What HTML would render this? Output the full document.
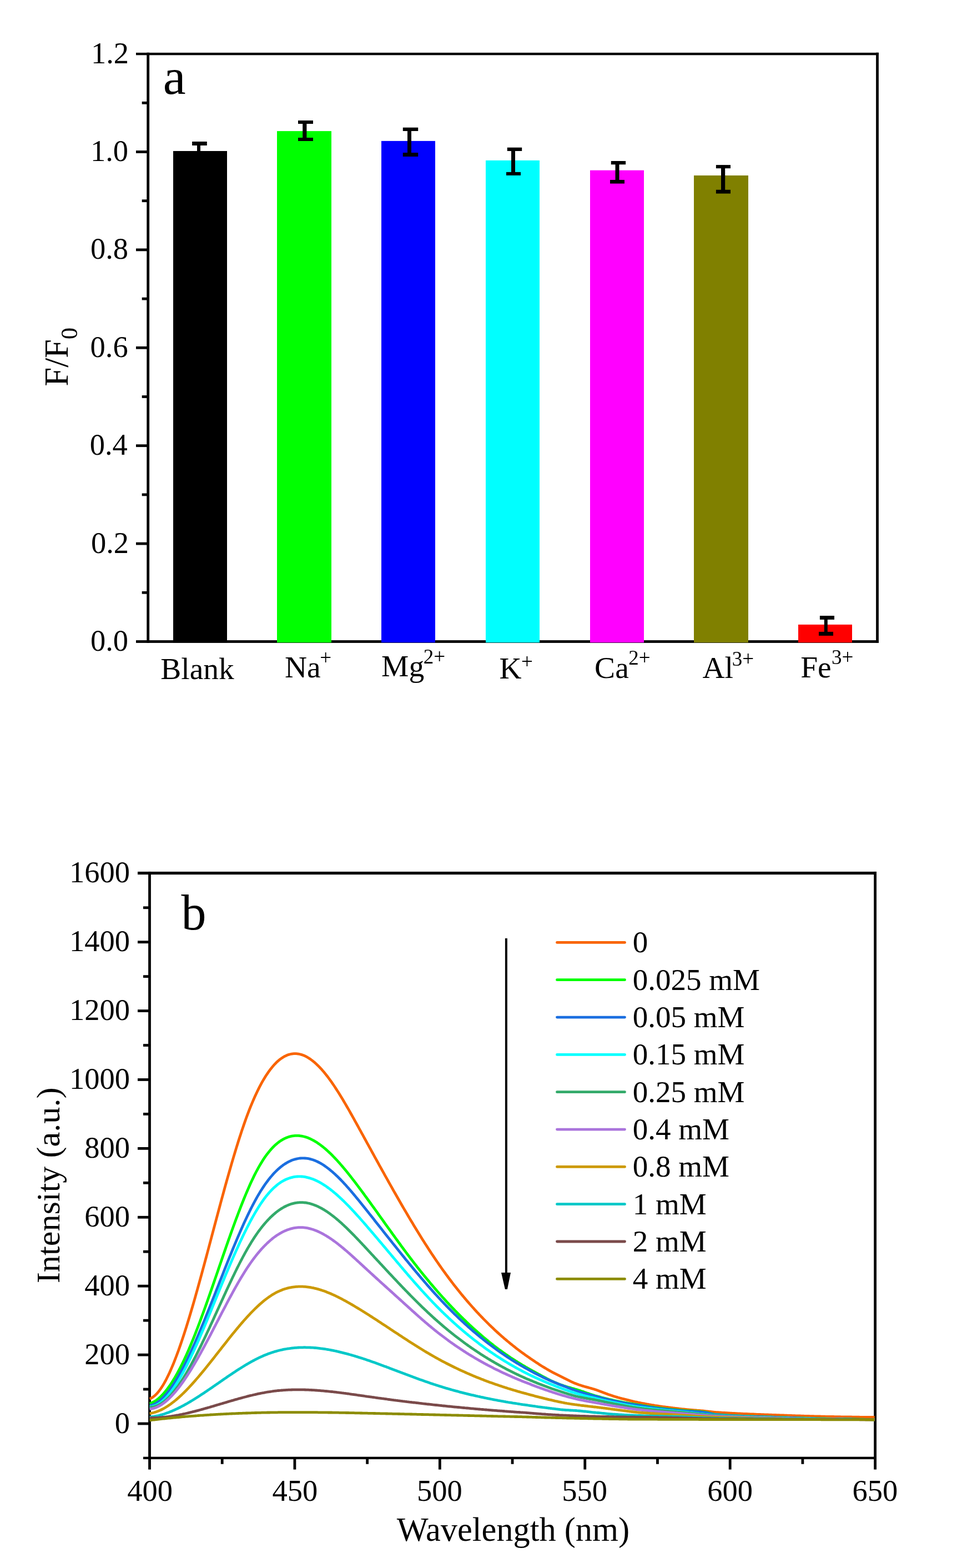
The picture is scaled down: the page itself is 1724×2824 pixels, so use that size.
<!DOCTYPE html>
<html><head><meta charset="utf-8"><title>Figure</title>
<style>html,body{margin:0;padding:0;background:#fff;}svg{display:block;}text{font-kerning:none;}</style>
</head><body>
<svg width="1724" height="2824" viewBox="0 0 1724 2824" font-family="'Liberation Serif','Times New Roman',serif" fill="#000">
<rect x="0" y="0" width="1724" height="2824" fill="#fff"/>
<rect x="264.30" y="94.70" width="4.80" height="1063.20" fill="#000"/>
<rect x="1578.10" y="94.70" width="4.80" height="1063.20" fill="#000"/>
<rect x="245.00" y="94.90" width="1337.90" height="4.40" fill="#000"/>
<rect x="245.00" y="1153.10" width="1337.90" height="4.80" fill="#000"/>
<rect x="245.00" y="976.70" width="21.70" height="4.80" fill="#000"/>
<rect x="245.00" y="800.30" width="21.70" height="4.80" fill="#000"/>
<rect x="245.00" y="623.90" width="21.70" height="4.80" fill="#000"/>
<rect x="245.00" y="447.50" width="21.70" height="4.80" fill="#000"/>
<rect x="245.00" y="271.10" width="21.70" height="4.80" fill="#000"/>
<rect x="255.70" y="1064.90" width="11.00" height="4.80" fill="#000"/>
<rect x="255.70" y="888.50" width="11.00" height="4.80" fill="#000"/>
<rect x="255.70" y="712.10" width="11.00" height="4.80" fill="#000"/>
<rect x="255.70" y="535.70" width="11.00" height="4.80" fill="#000"/>
<rect x="255.70" y="359.30" width="11.00" height="4.80" fill="#000"/>
<rect x="255.70" y="182.90" width="11.00" height="4.80" fill="#000"/>
<text x="162.95" y="1171.90" font-size="54.5">0.0</text>
<text x="163.88" y="995.50" font-size="54.5">0.2</text>
<text x="161.73" y="819.10" font-size="54.5">0.4</text>
<text x="162.50" y="642.70" font-size="54.5">0.6</text>
<text x="162.95" y="466.30" font-size="54.5">0.8</text>
<text x="162.95" y="289.90" font-size="54.5">1.0</text>
<text x="163.88" y="113.50" font-size="54.5">1.2</text>
<rect x="312.00" y="272.00" width="97.00" height="885.20" fill="#000000"/>
<rect x="499.00" y="236.10" width="98.00" height="921.10" fill="#00FF00"/>
<rect x="687.00" y="253.90" width="97.00" height="903.30" fill="#0000FF"/>
<rect x="875.00" y="288.90" width="97.00" height="868.30" fill="#00FFFF"/>
<rect x="1063.00" y="306.70" width="97.00" height="850.50" fill="#FF00FF"/>
<rect x="1250.00" y="316.00" width="98.00" height="841.20" fill="#808000"/>
<rect x="1438.00" y="1124.90" width="97.00" height="32.30" fill="#FF0000"/>
<rect x="355.00" y="255.60" width="6.00" height="25.80" fill="#000"/>
<rect x="346.10" y="255.00" width="26.70" height="7.00" fill="#000"/>
<rect x="346.10" y="276.00" width="26.70" height="6.00" fill="#000"/>
<rect x="545.20" y="217.60" width="7.20" height="35.80" fill="#000"/>
<rect x="537.00" y="217.00" width="27.00" height="6.00" fill="#000"/>
<rect x="537.00" y="248.00" width="27.00" height="6.00" fill="#000"/>
<rect x="734.00" y="230.30" width="7.00" height="51.10" fill="#000"/>
<rect x="725.80" y="229.70" width="27.40" height="6.30" fill="#000"/>
<rect x="725.80" y="275.00" width="27.40" height="7.00" fill="#000"/>
<rect x="921.00" y="266.30" width="7.00" height="49.00" fill="#000"/>
<rect x="913.80" y="265.70" width="26.40" height="6.30" fill="#000"/>
<rect x="912.00" y="309.90" width="26.00" height="6.00" fill="#000"/>
<rect x="1108.50" y="290.60" width="7.00" height="39.40" fill="#000"/>
<rect x="1100.80" y="290.00" width="26.30" height="6.30" fill="#000"/>
<rect x="1099.00" y="324.00" width="26.00" height="6.60" fill="#000"/>
<rect x="1299.00" y="297.70" width="7.20" height="50.30" fill="#000"/>
<rect x="1289.90" y="297.10" width="26.10" height="6.10" fill="#000"/>
<rect x="1289.90" y="341.80" width="26.10" height="6.80" fill="#000"/>
<rect x="1484.80" y="1109.60" width="6.00" height="34.70" fill="#000"/>
<rect x="1476.90" y="1109.00" width="26.10" height="6.90" fill="#000"/>
<rect x="1475.00" y="1137.90" width="26.00" height="7.00" fill="#000"/>
<text x="293.77" y="169.15" font-size="92">a</text>
<text x="289.20" y="1222.70" font-size="55.5">Blank</text>
<text x="513.00" y="1219.80" font-size="55.5">Na</text>
<text x="576.16" y="1196.50" font-size="37">+</text>
<text x="687.10" y="1217.90" font-size="55.5">Mg</text>
<text x="762.67" y="1195.10" font-size="37">2+</text>
<text x="899.50" y="1221.70" font-size="55.5">K</text>
<text x="939.06" y="1204.00" font-size="37">+</text>
<text x="1071.12" y="1220.60" font-size="55.5">Ca</text>
<text x="1132.37" y="1197.20" font-size="37">2+</text>
<text x="1265.46" y="1221.30" font-size="55.5">Al</text>
<text x="1318.83" y="1198.60" font-size="37">3+</text>
<text x="1442.20" y="1219.60" font-size="55.5">Fe</text>
<text x="1497.93" y="1196.40" font-size="37">3+</text>
<text transform="translate(121.8,695.76) rotate(-90)" font-size="61">F/F<tspan font-size="42" dy="17.2">0</tspan></text>
<rect x="267.10" y="1569.90" width="4.80" height="1076.70" fill="#000"/>
<rect x="1574.20" y="1569.90" width="4.80" height="1076.70" fill="#000"/>
<rect x="248.00" y="1569.90" width="1331.00" height="5.20" fill="#000"/>
<rect x="258.00" y="2623.70" width="1321.00" height="4.40" fill="#000"/>
<rect x="248.00" y="2561.60" width="21.50" height="4.80" fill="#000"/>
<rect x="248.00" y="2437.70" width="21.50" height="4.80" fill="#000"/>
<rect x="248.00" y="2313.80" width="21.50" height="4.80" fill="#000"/>
<rect x="248.00" y="2189.90" width="21.50" height="4.80" fill="#000"/>
<rect x="248.00" y="2066.00" width="21.50" height="4.80" fill="#000"/>
<rect x="248.00" y="1942.10" width="21.50" height="4.80" fill="#000"/>
<rect x="248.00" y="1818.20" width="21.50" height="4.80" fill="#000"/>
<rect x="248.00" y="1694.30" width="21.50" height="4.80" fill="#000"/>
<rect x="258.00" y="2499.65" width="11.50" height="4.80" fill="#000"/>
<rect x="258.00" y="2375.75" width="11.50" height="4.80" fill="#000"/>
<rect x="258.00" y="2251.85" width="11.50" height="4.80" fill="#000"/>
<rect x="258.00" y="2127.95" width="11.50" height="4.80" fill="#000"/>
<rect x="258.00" y="2004.05" width="11.50" height="4.80" fill="#000"/>
<rect x="258.00" y="1880.15" width="11.50" height="4.80" fill="#000"/>
<rect x="258.00" y="1756.25" width="11.50" height="4.80" fill="#000"/>
<rect x="258.00" y="1632.35" width="11.50" height="4.80" fill="#000"/>
<rect x="528.52" y="2625.90" width="4.80" height="20.70" fill="#000"/>
<rect x="789.94" y="2625.90" width="4.80" height="20.70" fill="#000"/>
<rect x="1051.36" y="2625.90" width="4.80" height="20.70" fill="#000"/>
<rect x="1312.78" y="2625.90" width="4.80" height="20.70" fill="#000"/>
<rect x="397.81" y="2625.90" width="4.80" height="10.90" fill="#000"/>
<rect x="659.23" y="2625.90" width="4.80" height="10.90" fill="#000"/>
<rect x="920.65" y="2625.90" width="4.80" height="10.90" fill="#000"/>
<rect x="1182.07" y="2625.90" width="4.80" height="10.90" fill="#000"/>
<rect x="1443.49" y="2625.90" width="4.80" height="10.90" fill="#000"/>
<text x="206.83" y="2580.50" font-size="54.5">0</text>
<text x="152.33" y="2456.60" font-size="54.5">200</text>
<text x="152.33" y="2332.70" font-size="54.5">400</text>
<text x="152.33" y="2208.80" font-size="54.5">600</text>
<text x="152.33" y="2084.90" font-size="54.5">800</text>
<text x="125.08" y="1961.00" font-size="54.5">1000</text>
<text x="125.08" y="1837.10" font-size="54.5">1200</text>
<text x="125.08" y="1713.20" font-size="54.5">1400</text>
<text x="125.08" y="1589.30" font-size="54.5">1600</text>
<text x="229.13" y="2703.20" font-size="54.5">400</text>
<text x="490.55" y="2703.20" font-size="54.5">450</text>
<text x="750.92" y="2703.20" font-size="54.5">500</text>
<text x="1012.34" y="2703.20" font-size="54.5">550</text>
<text x="1274.17" y="2703.20" font-size="54.5">600</text>
<text x="1535.59" y="2703.20" font-size="54.5">650</text>
<text x="714.74" y="2775.00" font-size="60.4" style="font-kerning:normal">Wavelength (nm)</text>
<text transform="translate(107.0,2311.18) rotate(-90)" font-size="60.2">Intensity (a.u.)</text>
<text x="326.40" y="1674.32" font-size="90">b</text>
<path d="M269.5,2519.2 271.5,2518.5 273.5,2517.5 275.5,2516.2 277.5,2514.7 279.5,2513.0 281.5,2511.1 283.5,2508.9 285.5,2506.5 287.5,2503.9 289.5,2501.1 291.5,2498.1 293.5,2495.0 295.5,2491.6 297.5,2488.0 299.5,2484.3 301.5,2480.3 303.5,2476.2 305.5,2472.0 307.5,2467.5 309.5,2462.9 311.5,2458.2 313.5,2453.3 315.5,2448.2 317.5,2443.0 319.5,2437.7 321.5,2432.2 323.5,2426.6 325.5,2420.9 327.5,2415.0 329.5,2409.0 331.5,2402.9 333.5,2396.7 335.5,2390.4 337.5,2384.0 339.5,2377.5 341.5,2371.0 343.5,2364.3 345.5,2357.5 347.5,2350.7 349.5,2343.8 351.5,2336.8 353.5,2329.7 355.5,2322.6 357.5,2315.4 359.5,2308.2 361.5,2300.9 363.5,2293.6 365.5,2286.2 367.5,2278.9 369.5,2271.4 371.5,2264.0 373.5,2256.5 375.5,2249.0 377.5,2241.5 379.5,2234.0 381.5,2226.4 383.5,2218.9 385.5,2211.4 387.5,2203.9 389.5,2196.4 391.5,2188.9 393.5,2181.4 395.5,2174.0 397.5,2166.5 399.5,2159.2 401.5,2151.8 403.5,2144.5 405.5,2137.2 407.5,2130.0 409.5,2122.9 411.5,2115.8 413.5,2108.8 415.5,2101.8 417.5,2094.9 419.5,2088.1 421.5,2081.4 423.5,2074.7 425.5,2068.1 427.5,2061.7 429.5,2055.3 431.5,2049.0 433.5,2042.9 435.5,2036.8 437.5,2030.9 439.5,2025.1 441.5,2019.4 443.5,2013.8 445.5,2008.4 447.5,2003.1 449.5,1997.9 451.5,1992.9 453.5,1988.1 455.5,1983.3 457.5,1978.7 459.5,1974.2 461.5,1969.9 463.5,1965.7 465.5,1961.6 467.5,1957.7 469.5,1953.9 471.5,1950.2 473.5,1946.6 475.5,1943.2 477.5,1939.9 479.5,1936.8 481.5,1933.8 483.5,1930.9 485.5,1928.1 487.5,1925.4 489.5,1922.9 491.5,1920.5 493.5,1918.2 495.5,1916.1 497.5,1914.0 499.5,1912.1 501.5,1910.3 503.5,1908.7 505.5,1907.1 507.5,1905.7 509.5,1904.4 511.5,1903.2 513.5,1902.1 515.5,1901.2 517.5,1900.3 519.5,1899.6 521.5,1899.0 523.5,1898.5 525.5,1898.1 527.5,1897.8 529.5,1897.7 531.5,1897.6 533.5,1897.7 535.5,1897.8 537.5,1898.1 539.5,1898.5 541.5,1899.0 543.5,1899.6 545.5,1900.3 547.5,1901.0 549.5,1901.9 551.5,1902.9 553.5,1904.0 555.5,1905.2 557.5,1906.5 559.5,1907.8 561.5,1909.3 563.5,1910.8 565.5,1912.5 567.5,1914.2 569.5,1916.0 571.5,1917.9 573.5,1919.8 575.5,1921.9 577.5,1924.0 579.5,1926.2 581.5,1928.5 583.5,1930.8 585.5,1933.3 587.5,1935.7 589.5,1938.3 591.5,1940.9 593.5,1943.6 595.5,1946.4 597.5,1949.2 599.5,1952.1 601.5,1955.0 603.5,1958.0 605.5,1961.1 607.5,1964.2 609.5,1967.3 611.5,1970.5 613.5,1973.8 615.5,1977.0 617.5,1980.3 619.5,1983.7 621.5,1987.1 623.5,1990.5 625.5,1994.0 627.5,1997.4 629.5,2000.9 631.5,2004.5 633.5,2008.0 635.5,2011.6 637.5,2015.2 639.5,2018.8 641.5,2022.4 643.5,2026.0 645.5,2029.6 647.5,2033.3 649.5,2036.9 651.5,2040.6 653.5,2044.2 655.5,2047.9 657.5,2051.5 659.5,2055.2 661.5,2058.8 663.5,2062.4 665.5,2066.1 667.5,2069.7 669.5,2073.4 671.5,2077.0 673.5,2080.6 675.5,2084.3 677.5,2087.9 679.5,2091.5 681.5,2095.2 683.5,2098.8 685.5,2102.4 687.5,2106.0 689.5,2109.6 691.5,2113.2 693.5,2116.8 695.5,2120.4 697.5,2123.9 699.5,2127.5 701.5,2131.1 703.5,2134.6 705.5,2138.2 707.5,2141.7 709.5,2145.3 711.5,2148.8 713.5,2152.3 715.5,2155.8 717.5,2159.3 719.5,2162.8 721.5,2166.2 723.5,2169.7 725.5,2173.2 727.5,2176.6 729.5,2180.0 731.5,2183.4 733.5,2186.8 735.5,2190.2 737.5,2193.6 739.5,2196.9 741.5,2200.3 743.5,2203.6 745.5,2206.9 747.5,2210.2 749.5,2213.5 751.5,2216.8 753.5,2220.0 755.5,2223.3 757.5,2226.5 759.5,2229.7 761.5,2232.9 763.5,2236.0 765.5,2239.2 767.5,2242.3 769.5,2245.4 771.5,2248.5 773.5,2251.6 775.5,2254.6 777.5,2257.7 779.5,2260.7 781.5,2263.7 783.5,2266.6 785.5,2269.6 787.5,2272.5 789.5,2275.4 791.5,2278.3 793.5,2281.1 795.5,2284.0 797.5,2286.8 799.5,2289.6 801.5,2292.3 803.5,2295.1 805.5,2297.8 807.5,2300.5 809.5,2303.2 811.5,2305.8 813.5,2308.5 815.5,2311.1 817.5,2313.7 819.5,2316.2 821.5,2318.8 823.5,2321.3 825.5,2323.8 827.5,2326.3 829.5,2328.8 831.5,2331.2 833.5,2333.6 835.5,2336.0 837.5,2338.4 839.5,2340.8 841.5,2343.1 843.5,2345.4 845.5,2347.7 847.5,2350.0 849.5,2352.3 851.5,2354.5 853.5,2356.7 855.5,2359.0 857.5,2361.1 859.5,2363.3 861.5,2365.4 863.5,2367.6 865.5,2369.7 867.5,2371.8 869.5,2373.8 871.5,2375.9 873.5,2377.9 875.5,2379.9 877.5,2381.9 879.5,2383.9 881.5,2385.9 883.5,2387.8 885.5,2389.7 887.5,2391.6 889.5,2393.5 891.5,2395.4 893.5,2397.3 895.5,2399.1 897.5,2400.9 899.5,2402.7 901.5,2404.5 903.5,2406.3 905.5,2408.0 907.5,2409.8 909.5,2411.5 911.5,2413.2 913.5,2414.9 915.5,2416.5 917.5,2418.2 919.5,2419.8 921.5,2421.4 923.5,2423.0 925.5,2424.6 927.5,2426.2 929.5,2427.8 931.5,2429.3 933.5,2430.8 935.5,2432.3 937.5,2433.8 939.5,2435.3 941.5,2436.8 943.5,2438.2 945.5,2439.7 947.5,2441.1 949.5,2442.5 951.5,2443.9 953.5,2445.3 955.5,2446.7 957.5,2448.1 959.5,2449.4 961.5,2450.8 963.5,2452.1 965.5,2453.5 967.5,2454.8 969.5,2456.1 971.5,2457.4 973.5,2458.7 975.5,2460.0 977.5,2461.2 979.5,2462.4 981.5,2463.6 983.5,2464.8 985.5,2466.0 987.5,2467.1 989.5,2468.3 991.5,2469.4 993.5,2470.5 995.5,2471.6 997.5,2472.6 999.5,2473.7 1001.5,2474.7 1003.5,2475.7 1005.5,2476.7 1007.5,2477.7 1009.5,2478.7 1011.5,2479.7 1013.5,2480.7 1015.5,2481.7 1017.5,2482.6 1019.5,2483.6 1021.5,2484.6 1023.5,2485.6 1025.5,2486.6 1027.5,2487.6 1029.5,2488.6 1031.5,2489.5 1033.5,2490.4 1035.5,2491.2 1037.5,2492.0 1039.5,2492.8 1041.5,2493.5 1043.5,2494.2 1045.5,2494.8 1047.5,2495.5 1049.5,2496.1 1051.5,2496.7 1053.5,2497.3 1055.5,2497.8 1057.5,2498.4 1059.5,2498.9 1061.5,2499.5 1063.5,2500.0 1065.5,2500.6 1067.5,2501.2 1069.5,2501.8 1071.5,2502.4 1073.5,2503.1 1075.5,2503.8 1077.5,2504.5 1079.5,2505.2 1081.5,2506.0 1083.5,2506.7 1085.5,2507.4 1087.5,2508.2 1089.5,2508.9 1091.5,2509.7 1093.5,2510.4 1095.5,2511.2 1097.5,2511.9 1099.5,2512.6 1101.5,2513.3 1103.5,2513.9 1105.5,2514.6 1107.5,2515.2 1109.5,2515.8 1111.5,2516.4 1113.5,2517.0 1115.5,2517.5 1117.5,2518.1 1119.5,2518.6 1121.5,2519.2 1123.5,2519.7 1125.5,2520.2 1127.5,2520.7 1129.5,2521.2 1131.5,2521.7 1133.5,2522.2 1135.5,2522.7 1137.5,2523.1 1139.5,2523.6 1141.5,2524.0 1143.5,2524.5 1145.5,2524.9 1147.5,2525.3 1149.5,2525.8 1151.5,2526.2 1153.5,2526.6 1155.5,2527.0 1157.5,2527.4 1159.5,2527.7 1161.5,2528.1 1163.5,2528.5 1165.5,2528.9 1167.5,2529.2 1169.5,2529.6 1171.5,2529.9 1173.5,2530.3 1175.5,2530.6 1177.5,2530.9 1179.5,2531.3 1181.5,2531.6 1183.5,2531.9 1185.5,2532.2 1187.5,2532.5 1189.5,2532.8 1191.5,2533.1 1193.5,2533.4 1195.5,2533.6 1197.5,2533.9 1199.5,2534.2 1201.5,2534.5 1203.5,2534.7 1205.5,2535.0 1207.5,2535.2 1209.5,2535.5 1211.5,2535.7 1213.5,2536.0 1215.5,2536.2 1217.5,2536.5 1219.5,2536.7 1221.5,2536.9 1223.5,2537.2 1225.5,2537.4 1227.5,2537.6 1229.5,2537.8 1231.5,2538.0 1233.5,2538.2 1235.5,2538.4 1237.5,2538.6 1239.5,2538.8 1241.5,2539.0 1243.5,2539.1 1245.5,2539.3 1247.5,2539.5 1249.5,2539.6 1251.5,2539.8 1253.5,2540.0 1255.5,2540.2 1257.5,2540.3 1259.5,2540.5 1261.5,2540.7 1263.5,2540.9 1265.5,2541.0 1267.5,2541.2 1269.5,2541.4 1271.5,2541.6 1273.5,2541.8 1275.5,2542.0 1277.5,2542.3 1279.5,2542.5 1281.5,2542.7 1283.5,2542.9 1285.5,2543.1 1287.5,2543.3 1289.5,2543.5 1291.5,2543.6 1293.5,2543.7 1295.5,2543.9 1297.5,2544.0 1299.5,2544.1 1301.5,2544.3 1303.5,2544.4 1305.5,2544.5 1307.5,2544.6 1309.5,2544.7 1311.5,2544.9 1313.5,2545.0 1315.5,2545.1 1317.5,2545.2 1319.5,2545.3 1321.5,2545.4 1323.5,2545.5 1325.5,2545.6 1327.5,2545.7 1329.5,2545.8 1331.5,2545.9 1333.5,2546.0 1335.5,2546.1 1337.5,2546.2 1339.5,2546.3 1341.5,2546.4 1343.5,2546.5 1345.5,2546.5 1347.5,2546.6 1349.5,2546.7 1351.5,2546.8 1353.5,2546.9 1355.5,2547.0 1357.5,2547.0 1359.5,2547.1 1361.5,2547.2 1363.5,2547.3 1365.5,2547.3 1367.5,2547.4 1369.5,2547.5 1371.5,2547.6 1373.5,2547.6 1375.5,2547.7 1377.5,2547.8 1379.5,2547.9 1381.5,2547.9 1383.5,2548.0 1385.5,2548.1 1387.5,2548.2 1389.5,2548.2 1391.5,2548.3 1393.5,2548.4 1395.5,2548.4 1397.5,2548.5 1399.5,2548.6 1401.5,2548.7 1403.5,2548.7 1405.5,2548.8 1407.5,2548.9 1409.5,2548.9 1411.5,2549.0 1413.5,2549.1 1415.5,2549.1 1417.5,2549.2 1419.5,2549.3 1421.5,2549.4 1423.5,2549.4 1425.5,2549.5 1427.5,2549.6 1429.5,2549.6 1431.5,2549.7 1433.5,2549.8 1435.5,2549.8 1437.5,2549.9 1439.5,2549.9 1441.5,2550.0 1443.5,2550.1 1445.5,2550.1 1447.5,2550.2 1449.5,2550.3 1451.5,2550.3 1453.5,2550.4 1455.5,2550.4 1457.5,2550.5 1459.5,2550.6 1461.5,2550.6 1463.5,2550.7 1465.5,2550.7 1467.5,2550.8 1469.5,2550.8 1471.5,2550.9 1473.5,2550.9 1475.5,2551.0 1477.5,2551.0 1479.5,2551.1 1481.5,2551.1 1483.5,2551.2 1485.5,2551.2 1487.5,2551.3 1489.5,2551.3 1491.5,2551.3 1493.5,2551.4 1495.5,2551.4 1497.5,2551.5 1499.5,2551.5 1501.5,2551.5 1503.5,2551.6 1505.5,2551.6 1507.5,2551.6 1509.5,2551.7 1511.5,2551.7 1513.5,2551.7 1515.5,2551.8 1517.5,2551.8 1519.5,2551.8 1521.5,2551.9 1523.5,2551.9 1525.5,2551.9 1527.5,2552.0 1529.5,2552.0 1531.5,2552.0 1533.5,2552.0 1535.5,2552.1 1537.5,2552.1 1539.5,2552.1 1541.5,2552.2 1543.5,2552.2 1545.5,2552.2 1547.5,2552.2 1549.5,2552.3 1551.5,2552.3 1553.5,2552.3 1555.5,2552.3 1557.5,2552.3 1559.5,2552.4 1561.5,2552.4 1563.5,2552.4 1565.5,2552.4 1567.5,2552.4 1569.5,2552.4 1571.5,2552.5 1573.5,2552.5 1575.5,2552.5" fill="none" stroke="#F96400" stroke-width="4.8" stroke-linejoin="round"/>
<path d="M269.5,2527.8 271.5,2527.3 273.5,2526.5 275.5,2525.5 277.5,2524.4 279.5,2523.2 281.5,2521.9 283.5,2520.4 285.5,2518.8 287.5,2517.0 289.5,2515.2 291.5,2513.2 293.5,2511.1 295.5,2508.9 297.5,2506.5 299.5,2504.0 301.5,2501.5 303.5,2498.8 305.5,2496.0 307.5,2493.0 309.5,2490.0 311.5,2486.8 313.5,2483.6 315.5,2480.2 317.5,2476.7 319.5,2473.2 321.5,2469.5 323.5,2465.7 325.5,2461.8 327.5,2457.8 329.5,2453.7 331.5,2449.6 333.5,2445.3 335.5,2440.9 337.5,2436.4 339.5,2431.9 341.5,2427.2 343.5,2422.5 345.5,2417.7 347.5,2412.8 349.5,2407.8 351.5,2402.8 353.5,2397.7 355.5,2392.5 357.5,2387.3 359.5,2382.0 361.5,2376.6 363.5,2371.2 365.5,2365.7 367.5,2360.2 369.5,2354.7 371.5,2349.1 373.5,2343.5 375.5,2337.8 377.5,2332.1 379.5,2326.4 381.5,2320.6 383.5,2314.9 385.5,2309.1 387.5,2303.3 389.5,2297.5 391.5,2291.7 393.5,2285.9 395.5,2280.0 397.5,2274.2 399.5,2268.4 401.5,2262.6 403.5,2256.9 405.5,2251.1 407.5,2245.3 409.5,2239.6 411.5,2233.9 413.5,2228.3 415.5,2222.6 417.5,2217.0 419.5,2211.5 421.5,2206.0 423.5,2200.5 425.5,2195.1 427.5,2189.8 429.5,2184.5 431.5,2179.3 433.5,2174.1 435.5,2169.0 437.5,2164.0 439.5,2159.0 441.5,2154.2 443.5,2149.4 445.5,2144.7 447.5,2140.1 449.5,2135.5 451.5,2131.1 453.5,2126.8 455.5,2122.6 457.5,2118.4 459.5,2114.4 461.5,2110.5 463.5,2106.8 465.5,2103.1 467.5,2099.6 469.5,2096.2 471.5,2092.9 473.5,2089.7 475.5,2086.7 477.5,2083.7 479.5,2080.9 481.5,2078.2 483.5,2075.7 485.5,2073.2 487.5,2070.9 489.5,2068.6 491.5,2066.5 493.5,2064.5 495.5,2062.6 497.5,2060.8 499.5,2059.1 501.5,2057.5 503.5,2056.0 505.5,2054.6 507.5,2053.4 509.5,2052.2 511.5,2051.1 513.5,2050.1 515.5,2049.2 517.5,2048.4 519.5,2047.7 521.5,2047.1 523.5,2046.6 525.5,2046.2 527.5,2045.8 529.5,2045.6 531.5,2045.4 533.5,2045.3 535.5,2045.3 537.5,2045.4 539.5,2045.5 541.5,2045.8 543.5,2046.1 545.5,2046.5 547.5,2047.0 549.5,2047.5 551.5,2048.1 553.5,2048.8 555.5,2049.6 557.5,2050.4 559.5,2051.3 561.5,2052.3 563.5,2053.3 565.5,2054.4 567.5,2055.6 569.5,2056.8 571.5,2058.1 573.5,2059.5 575.5,2060.9 577.5,2062.3 579.5,2063.8 581.5,2065.4 583.5,2067.0 585.5,2068.7 587.5,2070.4 589.5,2072.2 591.5,2074.1 593.5,2075.9 595.5,2077.8 597.5,2079.8 599.5,2081.8 601.5,2083.9 603.5,2086.0 605.5,2088.1 607.5,2090.2 609.5,2092.5 611.5,2094.7 613.5,2097.0 615.5,2099.3 617.5,2101.6 619.5,2104.0 621.5,2106.4 623.5,2108.8 625.5,2111.3 627.5,2113.8 629.5,2116.3 631.5,2118.8 633.5,2121.4 635.5,2123.9 637.5,2126.5 639.5,2129.1 641.5,2131.8 643.5,2134.4 645.5,2137.1 647.5,2139.7 649.5,2142.4 651.5,2145.1 653.5,2147.8 655.5,2150.5 657.5,2153.3 659.5,2156.0 661.5,2158.7 663.5,2161.5 665.5,2164.2 667.5,2167.0 669.5,2169.8 671.5,2172.6 673.5,2175.3 675.5,2178.1 677.5,2180.9 679.5,2183.7 681.5,2186.5 683.5,2189.3 685.5,2192.1 687.5,2194.9 689.5,2197.7 691.5,2200.5 693.5,2203.3 695.5,2206.1 697.5,2208.9 699.5,2211.6 701.5,2214.4 703.5,2217.2 705.5,2220.0 707.5,2222.8 709.5,2225.5 711.5,2228.3 713.5,2231.1 715.5,2233.8 717.5,2236.6 719.5,2239.3 721.5,2242.0 723.5,2244.8 725.5,2247.5 727.5,2250.2 729.5,2252.9 731.5,2255.6 733.5,2258.2 735.5,2260.9 737.5,2263.5 739.5,2266.2 741.5,2268.8 743.5,2271.4 745.5,2274.0 747.5,2276.6 749.5,2279.1 751.5,2281.7 753.5,2284.2 755.5,2286.7 757.5,2289.3 759.5,2291.7 761.5,2294.2 763.5,2296.7 765.5,2299.1 767.5,2301.6 769.5,2304.0 771.5,2306.4 773.5,2308.8 775.5,2311.2 777.5,2313.6 779.5,2315.9 781.5,2318.3 783.5,2320.6 785.5,2322.9 787.5,2325.2 789.5,2327.5 791.5,2329.8 793.5,2332.0 795.5,2334.3 797.5,2336.5 799.5,2338.7 801.5,2340.9 803.5,2343.1 805.5,2345.3 807.5,2347.4 809.5,2349.6 811.5,2351.7 813.5,2353.8 815.5,2355.9 817.5,2358.0 819.5,2360.1 821.5,2362.1 823.5,2364.2 825.5,2366.2 827.5,2368.2 829.5,2370.2 831.5,2372.2 833.5,2374.1 835.5,2376.1 837.5,2378.0 839.5,2380.0 841.5,2381.9 843.5,2383.8 845.5,2385.7 847.5,2387.5 849.5,2389.4 851.5,2391.2 853.5,2393.0 855.5,2394.8 857.5,2396.6 859.5,2398.4 861.5,2400.2 863.5,2401.9 865.5,2403.6 867.5,2405.4 869.5,2407.1 871.5,2408.8 873.5,2410.4 875.5,2412.1 877.5,2413.7 879.5,2415.4 881.5,2417.0 883.5,2418.6 885.5,2420.2 887.5,2421.7 889.5,2423.3 891.5,2424.8 893.5,2426.3 895.5,2427.8 897.5,2429.3 899.5,2430.8 901.5,2432.3 903.5,2433.7 905.5,2435.2 907.5,2436.6 909.5,2438.0 911.5,2439.4 913.5,2440.8 915.5,2442.2 917.5,2443.5 919.5,2444.9 921.5,2446.2 923.5,2447.5 925.5,2448.8 927.5,2450.1 929.5,2451.4 931.5,2452.6 933.5,2453.9 935.5,2455.1 937.5,2456.3 939.5,2457.6 941.5,2458.8 943.5,2459.9 945.5,2461.1 947.5,2462.3 949.5,2463.4 951.5,2464.5 953.5,2465.7 955.5,2466.8 957.5,2467.9 959.5,2469.0 961.5,2470.1 963.5,2471.2 965.5,2472.3 967.5,2473.4 969.5,2474.5 971.5,2475.6 973.5,2476.7 975.5,2477.8 977.5,2478.9 979.5,2479.9 981.5,2481.0 983.5,2482.0 985.5,2483.1 987.5,2484.1 989.5,2485.1 991.5,2486.1 993.5,2487.1 995.5,2488.0 997.5,2488.9 999.5,2489.8 1001.5,2490.6 1003.5,2491.4 1005.5,2492.2 1007.5,2493.0 1009.5,2493.7 1011.5,2494.4 1013.5,2495.1 1015.5,2495.8 1017.5,2496.4 1019.5,2497.1 1021.5,2497.7 1023.5,2498.3 1025.5,2498.8 1027.5,2499.4 1029.5,2500.0 1031.5,2500.5 1033.5,2501.1 1035.5,2501.7 1037.5,2502.3 1039.5,2502.9 1041.5,2503.5 1043.5,2504.1 1045.5,2504.8 1047.5,2505.5 1049.5,2506.1 1051.5,2506.8 1053.5,2507.5 1055.5,2508.2 1057.5,2508.9 1059.5,2509.6 1061.5,2510.3 1063.5,2511.0 1065.5,2511.6 1067.5,2512.3 1069.5,2512.9 1071.5,2513.5 1073.5,2514.0 1075.5,2514.6 1077.5,2515.2 1079.5,2515.7 1081.5,2516.2 1083.5,2516.8 1085.5,2517.3 1087.5,2517.8 1089.5,2518.3 1091.5,2518.8 1093.5,2519.3 1095.5,2519.8 1097.5,2520.3 1099.5,2520.7 1101.5,2521.2 1103.5,2521.7 1105.5,2522.1 1107.5,2522.5 1109.5,2522.9 1111.5,2523.3 1113.5,2523.7 1115.5,2524.1 1117.5,2524.5 1119.5,2524.9 1121.5,2525.3 1123.5,2525.6 1125.5,2526.0 1127.5,2526.3 1129.5,2526.7 1131.5,2527.0 1133.5,2527.4 1135.5,2527.7 1137.5,2528.0 1139.5,2528.3 1141.5,2528.7 1143.5,2529.0 1145.5,2529.3 1147.5,2529.6 1149.5,2530.0 1151.5,2530.3 1153.5,2530.6 1155.5,2530.9 1157.5,2531.3 1159.5,2531.6 1161.5,2531.9 1163.5,2532.2 1165.5,2532.6 1167.5,2532.9 1169.5,2533.2 1171.5,2533.5 1173.5,2533.8 1175.5,2534.1 1177.5,2534.4 1179.5,2534.7 1181.5,2535.0 1183.5,2535.2 1185.5,2535.5 1187.5,2535.7 1189.5,2536.0 1191.5,2536.2 1193.5,2536.5 1195.5,2536.7 1197.5,2536.9 1199.5,2537.1 1201.5,2537.3 1203.5,2537.5 1205.5,2537.8 1207.5,2538.0 1209.5,2538.2 1211.5,2538.3 1213.5,2538.5 1215.5,2538.7 1217.5,2538.9 1219.5,2539.1 1221.5,2539.3 1223.5,2539.5 1225.5,2539.6 1227.5,2539.8 1229.5,2540.0 1231.5,2540.2 1233.5,2540.3 1235.5,2540.5 1237.5,2540.6 1239.5,2540.8 1241.5,2540.9 1243.5,2541.0 1245.5,2541.2 1247.5,2541.3 1249.5,2541.5 1251.5,2541.6 1253.5,2541.7 1255.5,2541.9 1257.5,2542.0 1259.5,2542.2 1261.5,2542.4 1263.5,2542.6 1265.5,2542.8 1267.5,2543.0 1269.5,2543.2 1271.5,2543.5 1273.5,2543.9 1275.5,2544.3 1277.5,2544.8 1279.5,2545.3 1281.5,2545.8 1283.5,2546.2 1285.5,2546.6 1287.5,2547.0 1289.5,2547.3 1291.5,2547.4 1293.5,2547.6 1295.5,2547.8 1297.5,2547.9 1299.5,2548.1 1301.5,2548.2 1303.5,2548.4 1305.5,2548.5 1307.5,2548.6 1309.5,2548.8 1311.5,2548.9 1313.5,2549.0 1315.5,2549.2 1317.5,2549.3 1319.5,2549.4 1321.5,2549.5 1323.5,2549.6 1325.5,2549.7 1327.5,2549.8 1329.5,2549.9 1331.5,2550.0 1333.5,2550.1 1335.5,2550.2 1337.5,2550.3 1339.5,2550.3 1341.5,2550.4 1343.5,2550.5 1345.5,2550.6 1347.5,2550.7 1349.5,2550.7 1351.5,2550.8 1353.5,2550.9 1355.5,2550.9 1357.5,2551.0 1359.5,2551.1 1361.5,2551.2 1363.5,2551.2 1365.5,2551.3 1367.5,2551.3 1369.5,2551.4 1371.5,2551.5 1373.5,2551.5 1375.5,2551.6 1377.5,2551.7 1379.5,2551.7 1381.5,2551.8 1383.5,2551.9 1385.5,2551.9 1387.5,2552.0 1389.5,2552.0 1391.5,2552.1 1393.5,2552.2 1395.5,2552.2 1397.5,2552.3 1399.5,2552.4 1401.5,2552.5 1403.5,2552.5 1405.5,2552.6 1407.5,2552.7 1409.5,2552.7 1411.5,2552.8 1413.5,2552.9 1415.5,2552.9 1417.5,2553.0 1419.5,2553.1 1421.5,2553.1 1423.5,2553.2 1425.5,2553.3 1427.5,2553.3 1429.5,2553.4 1431.5,2553.5 1433.5,2553.5 1435.5,2553.6 1437.5,2553.7 1439.5,2553.7 1441.5,2553.8 1443.5,2553.8 1445.5,2553.9 1447.5,2554.0 1449.5,2554.0 1451.5,2554.1 1453.5,2554.1 1455.5,2554.2 1457.5,2554.3 1459.5,2554.3 1461.5,2554.4 1463.5,2554.4 1465.5,2554.5 1467.5,2554.5 1469.5,2554.6 1471.5,2554.6 1473.5,2554.7 1475.5,2554.7 1477.5,2554.8 1479.5,2554.8 1481.5,2554.9 1483.5,2554.9 1485.5,2555.0 1487.5,2555.0 1489.5,2555.1 1491.5,2555.1 1493.5,2555.2 1495.5,2555.2 1497.5,2555.2 1499.5,2555.3 1501.5,2555.3 1503.5,2555.4 1505.5,2555.4 1507.5,2555.4 1509.5,2555.5 1511.5,2555.5 1513.5,2555.6 1515.5,2555.6 1517.5,2555.6 1519.5,2555.7 1521.5,2555.7 1523.5,2555.7 1525.5,2555.8 1527.5,2555.8 1529.5,2555.9 1531.5,2555.9 1533.5,2555.9 1535.5,2556.0 1537.5,2556.0 1539.5,2556.0 1541.5,2556.0 1543.5,2556.1 1545.5,2556.1 1547.5,2556.1 1549.5,2556.2 1551.5,2556.2 1553.5,2556.2 1555.5,2556.2 1557.5,2556.3 1559.5,2556.3 1561.5,2556.3 1563.5,2556.4 1565.5,2556.4 1567.5,2556.4 1569.5,2556.4 1571.5,2556.4 1573.5,2556.5 1575.5,2556.5" fill="none" stroke="#00FF00" stroke-width="4.8" stroke-linejoin="round"/>
<path d="M269.5,2531.5 271.5,2531.2 273.5,2530.6 275.5,2530.0 277.5,2529.1 279.5,2528.1 281.5,2527.0 283.5,2525.8 285.5,2524.4 287.5,2522.8 289.5,2521.2 291.5,2519.4 293.5,2517.4 295.5,2515.4 297.5,2513.2 299.5,2510.9 301.5,2508.5 303.5,2506.0 305.5,2503.4 307.5,2500.6 309.5,2497.8 311.5,2494.8 313.5,2491.8 315.5,2488.6 317.5,2485.3 319.5,2482.0 321.5,2478.6 323.5,2475.0 325.5,2471.4 327.5,2467.7 329.5,2463.9 331.5,2460.1 333.5,2456.1 335.5,2452.1 337.5,2448.0 339.5,2443.8 341.5,2439.6 343.5,2435.3 345.5,2431.0 347.5,2426.6 349.5,2422.1 351.5,2417.6 353.5,2413.0 355.5,2408.4 357.5,2403.7 359.5,2399.0 361.5,2394.3 363.5,2389.5 365.5,2384.6 367.5,2379.8 369.5,2374.9 371.5,2369.9 373.5,2365.0 375.5,2360.0 377.5,2355.0 379.5,2350.0 381.5,2345.0 383.5,2339.9 385.5,2334.9 387.5,2329.8 389.5,2324.7 391.5,2319.6 393.5,2314.6 395.5,2309.5 397.5,2304.4 399.5,2299.3 401.5,2294.3 403.5,2289.2 405.5,2284.2 407.5,2279.2 409.5,2274.2 411.5,2269.2 413.5,2264.2 415.5,2259.3 417.5,2254.4 419.5,2249.5 421.5,2244.7 423.5,2239.9 425.5,2235.1 427.5,2230.4 429.5,2225.7 431.5,2221.1 433.5,2216.5 435.5,2212.0 437.5,2207.5 439.5,2203.1 441.5,2198.8 443.5,2194.5 445.5,2190.2 447.5,2186.1 449.5,2182.0 451.5,2177.9 453.5,2174.0 455.5,2170.1 457.5,2166.3 459.5,2162.6 461.5,2159.0 463.5,2155.4 465.5,2152.0 467.5,2148.6 469.5,2145.3 471.5,2142.2 473.5,2139.1 475.5,2136.1 477.5,2133.2 479.5,2130.4 481.5,2127.7 483.5,2125.0 485.5,2122.5 487.5,2120.0 489.5,2117.7 491.5,2115.4 493.5,2113.2 495.5,2111.1 497.5,2109.1 499.5,2107.2 501.5,2105.3 503.5,2103.6 505.5,2101.9 507.5,2100.3 509.5,2098.8 511.5,2097.4 513.5,2096.1 515.5,2094.9 517.5,2093.7 519.5,2092.6 521.5,2091.6 523.5,2090.7 525.5,2089.8 527.5,2089.1 529.5,2088.4 531.5,2087.8 533.5,2087.3 535.5,2086.9 537.5,2086.5 539.5,2086.2 541.5,2086.0 543.5,2085.9 545.5,2085.8 547.5,2085.9 549.5,2086.0 551.5,2086.1 553.5,2086.4 555.5,2086.7 557.5,2087.1 559.5,2087.6 561.5,2088.2 563.5,2088.8 565.5,2089.5 567.5,2090.2 569.5,2091.1 571.5,2092.0 573.5,2093.0 575.5,2094.0 577.5,2095.1 579.5,2096.3 581.5,2097.5 583.5,2098.8 585.5,2100.2 587.5,2101.6 589.5,2103.1 591.5,2104.6 593.5,2106.2 595.5,2107.8 597.5,2109.5 599.5,2111.2 601.5,2113.0 603.5,2114.8 605.5,2116.7 607.5,2118.6 609.5,2120.5 611.5,2122.5 613.5,2124.5 615.5,2126.6 617.5,2128.7 619.5,2130.9 621.5,2133.0 623.5,2135.2 625.5,2137.5 627.5,2139.7 629.5,2142.0 631.5,2144.3 633.5,2146.6 635.5,2149.0 637.5,2151.4 639.5,2153.8 641.5,2156.2 643.5,2158.6 645.5,2161.1 647.5,2163.5 649.5,2166.0 651.5,2168.5 653.5,2171.0 655.5,2173.5 657.5,2176.0 659.5,2178.5 661.5,2181.0 663.5,2183.5 665.5,2186.1 667.5,2188.6 669.5,2191.1 671.5,2193.6 673.5,2196.1 675.5,2198.7 677.5,2201.2 679.5,2203.7 681.5,2206.3 683.5,2208.8 685.5,2211.3 687.5,2213.8 689.5,2216.4 691.5,2218.9 693.5,2221.4 695.5,2224.0 697.5,2226.5 699.5,2229.0 701.5,2231.5 703.5,2234.0 705.5,2236.5 707.5,2239.1 709.5,2241.6 711.5,2244.1 713.5,2246.6 715.5,2249.1 717.5,2251.6 719.5,2254.0 721.5,2256.5 723.5,2259.0 725.5,2261.5 727.5,2263.9 729.5,2266.4 731.5,2268.9 733.5,2271.3 735.5,2273.8 737.5,2276.2 739.5,2278.6 741.5,2281.0 743.5,2283.5 745.5,2285.9 747.5,2288.3 749.5,2290.7 751.5,2293.0 753.5,2295.4 755.5,2297.8 757.5,2300.1 759.5,2302.5 761.5,2304.8 763.5,2307.1 765.5,2309.5 767.5,2311.8 769.5,2314.1 771.5,2316.3 773.5,2318.6 775.5,2320.9 777.5,2323.1 779.5,2325.4 781.5,2327.6 783.5,2329.8 785.5,2332.0 787.5,2334.2 789.5,2336.3 791.5,2338.5 793.5,2340.6 795.5,2342.8 797.5,2344.9 799.5,2347.0 801.5,2349.1 803.5,2351.2 805.5,2353.2 807.5,2355.3 809.5,2357.3 811.5,2359.3 813.5,2361.3 815.5,2363.3 817.5,2365.2 819.5,2367.2 821.5,2369.1 823.5,2371.1 825.5,2373.0 827.5,2374.9 829.5,2376.8 831.5,2378.6 833.5,2380.5 835.5,2382.3 837.5,2384.2 839.5,2386.0 841.5,2387.8 843.5,2389.6 845.5,2391.3 847.5,2393.1 849.5,2394.8 851.5,2396.6 853.5,2398.3 855.5,2400.0 857.5,2401.7 859.5,2403.3 861.5,2405.0 863.5,2406.7 865.5,2408.3 867.5,2409.9 869.5,2411.5 871.5,2413.1 873.5,2414.7 875.5,2416.3 877.5,2417.8 879.5,2419.4 881.5,2420.9 883.5,2422.4 885.5,2423.9 887.5,2425.4 889.5,2426.9 891.5,2428.4 893.5,2429.8 895.5,2431.3 897.5,2432.7 899.5,2434.1 901.5,2435.5 903.5,2436.9 905.5,2438.3 907.5,2439.6 909.5,2441.0 911.5,2442.3 913.5,2443.7 915.5,2445.0 917.5,2446.3 919.5,2447.6 921.5,2448.9 923.5,2450.1 925.5,2451.4 927.5,2452.6 929.5,2453.9 931.5,2455.1 933.5,2456.3 935.5,2457.5 937.5,2458.7 939.5,2459.8 941.5,2461.0 943.5,2462.2 945.5,2463.3 947.5,2464.4 949.5,2465.5 951.5,2466.6 953.5,2467.7 955.5,2468.8 957.5,2469.9 959.5,2471.0 961.5,2472.1 963.5,2473.1 965.5,2474.2 967.5,2475.2 969.5,2476.2 971.5,2477.2 973.5,2478.2 975.5,2479.2 977.5,2480.2 979.5,2481.1 981.5,2482.1 983.5,2483.0 985.5,2483.9 987.5,2484.8 989.5,2485.7 991.5,2486.6 993.5,2487.5 995.5,2488.3 997.5,2489.1 999.5,2490.0 1001.5,2490.8 1003.5,2491.6 1005.5,2492.4 1007.5,2493.2 1009.5,2493.9 1011.5,2494.7 1013.5,2495.5 1015.5,2496.3 1017.5,2497.0 1019.5,2497.8 1021.5,2498.6 1023.5,2499.4 1025.5,2500.1 1027.5,2500.9 1029.5,2501.7 1031.5,2502.4 1033.5,2503.1 1035.5,2503.8 1037.5,2504.5 1039.5,2505.2 1041.5,2505.8 1043.5,2506.4 1045.5,2507.1 1047.5,2507.7 1049.5,2508.3 1051.5,2508.9 1053.5,2509.4 1055.5,2510.0 1057.5,2510.6 1059.5,2511.1 1061.5,2511.6 1063.5,2512.2 1065.5,2512.7 1067.5,2513.3 1069.5,2513.8 1071.5,2514.3 1073.5,2514.9 1075.5,2515.4 1077.5,2515.9 1079.5,2516.5 1081.5,2517.0 1083.5,2517.5 1085.5,2518.0 1087.5,2518.6 1089.5,2519.1 1091.5,2519.6 1093.5,2520.1 1095.5,2520.6 1097.5,2521.0 1099.5,2521.5 1101.5,2522.0 1103.5,2522.4 1105.5,2522.9 1107.5,2523.3 1109.5,2523.7 1111.5,2524.1 1113.5,2524.5 1115.5,2524.9 1117.5,2525.3 1119.5,2525.7 1121.5,2526.1 1123.5,2526.4 1125.5,2526.8 1127.5,2527.1 1129.5,2527.5 1131.5,2527.8 1133.5,2528.2 1135.5,2528.5 1137.5,2528.8 1139.5,2529.1 1141.5,2529.5 1143.5,2529.8 1145.5,2530.1 1147.5,2530.4 1149.5,2530.8 1151.5,2531.1 1153.5,2531.4 1155.5,2531.7 1157.5,2532.1 1159.5,2532.4 1161.5,2532.7 1163.5,2533.0 1165.5,2533.4 1167.5,2533.7 1169.5,2534.0 1171.5,2534.3 1173.5,2534.6 1175.5,2534.9 1177.5,2535.2 1179.5,2535.5 1181.5,2535.8 1183.5,2536.0 1185.5,2536.3 1187.5,2536.5 1189.5,2536.8 1191.5,2537.0 1193.5,2537.3 1195.5,2537.5 1197.5,2537.7 1199.5,2537.9 1201.5,2538.1 1203.5,2538.4 1205.5,2538.6 1207.5,2538.8 1209.5,2539.0 1211.5,2539.2 1213.5,2539.4 1215.5,2539.5 1217.5,2539.7 1219.5,2539.9 1221.5,2540.1 1223.5,2540.3 1225.5,2540.5 1227.5,2540.6 1229.5,2540.8 1231.5,2541.0 1233.5,2541.1 1235.5,2541.3 1237.5,2541.4 1239.5,2541.5 1241.5,2541.7 1243.5,2541.8 1245.5,2541.9 1247.5,2542.0 1249.5,2542.2 1251.5,2542.3 1253.5,2542.4 1255.5,2542.6 1257.5,2542.7 1259.5,2542.9 1261.5,2543.0 1263.5,2543.2 1265.5,2543.4 1267.5,2543.6 1269.5,2543.8 1271.5,2544.1 1273.5,2544.4 1275.5,2544.8 1277.5,2545.3 1279.5,2545.7 1281.5,2546.2 1283.5,2546.6 1285.5,2547.0 1287.5,2547.3 1289.5,2547.6 1291.5,2547.7 1293.5,2547.9 1295.5,2548.0 1297.5,2548.2 1299.5,2548.3 1301.5,2548.5 1303.5,2548.6 1305.5,2548.8 1307.5,2548.9 1309.5,2549.0 1311.5,2549.2 1313.5,2549.3 1315.5,2549.4 1317.5,2549.5 1319.5,2549.6 1321.5,2549.7 1323.5,2549.8 1325.5,2549.9 1327.5,2550.0 1329.5,2550.1 1331.5,2550.2 1333.5,2550.3 1335.5,2550.4 1337.5,2550.5 1339.5,2550.6 1341.5,2550.6 1343.5,2550.7 1345.5,2550.8 1347.5,2550.9 1349.5,2550.9 1351.5,2551.0 1353.5,2551.1 1355.5,2551.2 1357.5,2551.2 1359.5,2551.3 1361.5,2551.4 1363.5,2551.4 1365.5,2551.5 1367.5,2551.6 1369.5,2551.6 1371.5,2551.7 1373.5,2551.7 1375.5,2551.8 1377.5,2551.9 1379.5,2551.9 1381.5,2552.0 1383.5,2552.1 1385.5,2552.1 1387.5,2552.2 1389.5,2552.2 1391.5,2552.3 1393.5,2552.4 1395.5,2552.4 1397.5,2552.5 1399.5,2552.6 1401.5,2552.7 1403.5,2552.7 1405.5,2552.8 1407.5,2552.9 1409.5,2552.9 1411.5,2553.0 1413.5,2553.1 1415.5,2553.1 1417.5,2553.2 1419.5,2553.3 1421.5,2553.3 1423.5,2553.4 1425.5,2553.5 1427.5,2553.6 1429.5,2553.6 1431.5,2553.7 1433.5,2553.7 1435.5,2553.8 1437.5,2553.9 1439.5,2553.9 1441.5,2554.0 1443.5,2554.1 1445.5,2554.1 1447.5,2554.2 1449.5,2554.3 1451.5,2554.3 1453.5,2554.4 1455.5,2554.4 1457.5,2554.5 1459.5,2554.5 1461.5,2554.6 1463.5,2554.7 1465.5,2554.7 1467.5,2554.8 1469.5,2554.8 1471.5,2554.9 1473.5,2554.9 1475.5,2555.0 1477.5,2555.0 1479.5,2555.1 1481.5,2555.1 1483.5,2555.2 1485.5,2555.2 1487.5,2555.3 1489.5,2555.3 1491.5,2555.3 1493.5,2555.4 1495.5,2555.4 1497.5,2555.5 1499.5,2555.5 1501.5,2555.5 1503.5,2555.6 1505.5,2555.6 1507.5,2555.6 1509.5,2555.7 1511.5,2555.7 1513.5,2555.7 1515.5,2555.8 1517.5,2555.8 1519.5,2555.8 1521.5,2555.9 1523.5,2555.9 1525.5,2555.9 1527.5,2556.0 1529.5,2556.0 1531.5,2556.0 1533.5,2556.0 1535.5,2556.1 1537.5,2556.1 1539.5,2556.1 1541.5,2556.2 1543.5,2556.2 1545.5,2556.2 1547.5,2556.2 1549.5,2556.3 1551.5,2556.3 1553.5,2556.3 1555.5,2556.3 1557.5,2556.3 1559.5,2556.4 1561.5,2556.4 1563.5,2556.4 1565.5,2556.4 1567.5,2556.4 1569.5,2556.4 1571.5,2556.5 1573.5,2556.5 1575.5,2556.5" fill="none" stroke="#1A6EE0" stroke-width="4.8" stroke-linejoin="round"/>
<path d="M269.5,2533.3 271.5,2533.3 273.5,2533.1 275.5,2532.7 277.5,2532.2 279.5,2531.5 281.5,2530.7 283.5,2529.7 285.5,2528.6 287.5,2527.3 289.5,2525.9 291.5,2524.3 293.5,2522.7 295.5,2520.9 297.5,2518.9 299.5,2516.8 301.5,2514.7 303.5,2512.3 305.5,2509.9 307.5,2507.4 309.5,2504.7 311.5,2501.9 313.5,2499.0 315.5,2496.1 317.5,2493.0 319.5,2489.8 321.5,2486.5 323.5,2483.1 325.5,2479.7 327.5,2476.1 329.5,2472.5 331.5,2468.8 333.5,2465.0 335.5,2461.1 337.5,2457.1 339.5,2453.1 341.5,2449.0 343.5,2444.9 345.5,2440.6 347.5,2436.4 349.5,2432.0 351.5,2427.6 353.5,2423.2 355.5,2418.7 357.5,2414.2 359.5,2409.6 361.5,2404.9 363.5,2400.3 365.5,2395.6 367.5,2390.9 369.5,2386.1 371.5,2381.3 373.5,2376.5 375.5,2371.7 377.5,2366.8 379.5,2362.0 381.5,2357.1 383.5,2352.2 385.5,2347.3 387.5,2342.4 389.5,2337.5 391.5,2332.6 393.5,2327.8 395.5,2322.9 397.5,2318.0 399.5,2313.2 401.5,2308.3 403.5,2303.5 405.5,2298.7 407.5,2293.9 409.5,2289.2 411.5,2284.5 413.5,2279.8 415.5,2275.1 417.5,2270.5 419.5,2265.9 421.5,2261.3 423.5,2256.8 425.5,2252.3 427.5,2247.9 429.5,2243.5 431.5,2239.1 433.5,2234.8 435.5,2230.6 437.5,2226.4 439.5,2222.3 441.5,2218.2 443.5,2214.2 445.5,2210.2 447.5,2206.3 449.5,2202.5 451.5,2198.7 453.5,2195.0 455.5,2191.4 457.5,2187.9 459.5,2184.4 461.5,2181.0 463.5,2177.7 465.5,2174.5 467.5,2171.4 469.5,2168.3 471.5,2165.3 473.5,2162.5 475.5,2159.7 477.5,2157.0 479.5,2154.4 481.5,2152.0 483.5,2149.6 485.5,2147.3 487.5,2145.1 489.5,2143.0 491.5,2141.0 493.5,2139.1 495.5,2137.3 497.5,2135.6 499.5,2133.9 501.5,2132.4 503.5,2130.9 505.5,2129.6 507.5,2128.3 509.5,2127.1 511.5,2126.0 513.5,2125.0 515.5,2124.0 517.5,2123.2 519.5,2122.4 521.5,2121.7 523.5,2121.1 525.5,2120.6 527.5,2120.1 529.5,2119.7 531.5,2119.4 533.5,2119.2 535.5,2119.0 537.5,2118.9 539.5,2118.9 541.5,2118.9 543.5,2119.0 545.5,2119.2 547.5,2119.4 549.5,2119.7 551.5,2120.1 553.5,2120.6 555.5,2121.1 557.5,2121.6 559.5,2122.2 561.5,2122.9 563.5,2123.6 565.5,2124.4 567.5,2125.3 569.5,2126.2 571.5,2127.2 573.5,2128.2 575.5,2129.2 577.5,2130.3 579.5,2131.5 581.5,2132.7 583.5,2134.0 585.5,2135.3 587.5,2136.6 589.5,2138.0 591.5,2139.5 593.5,2140.9 595.5,2142.5 597.5,2144.0 599.5,2145.6 601.5,2147.3 603.5,2149.0 605.5,2150.7 607.5,2152.4 609.5,2154.2 611.5,2156.0 613.5,2157.9 615.5,2159.8 617.5,2161.7 619.5,2163.6 621.5,2165.6 623.5,2167.6 625.5,2169.6 627.5,2171.6 629.5,2173.7 631.5,2175.8 633.5,2177.9 635.5,2180.1 637.5,2182.2 639.5,2184.4 641.5,2186.6 643.5,2188.8 645.5,2191.0 647.5,2193.2 649.5,2195.5 651.5,2197.8 653.5,2200.0 655.5,2202.3 657.5,2204.6 659.5,2206.9 661.5,2209.2 663.5,2211.6 665.5,2213.9 667.5,2216.2 669.5,2218.6 671.5,2220.9 673.5,2223.3 675.5,2225.6 677.5,2228.0 679.5,2230.3 681.5,2232.7 683.5,2235.1 685.5,2237.4 687.5,2239.8 689.5,2242.2 691.5,2244.6 693.5,2246.9 695.5,2249.3 697.5,2251.7 699.5,2254.1 701.5,2256.5 703.5,2258.8 705.5,2261.2 707.5,2263.6 709.5,2266.0 711.5,2268.3 713.5,2270.7 715.5,2273.1 717.5,2275.5 719.5,2277.8 721.5,2280.2 723.5,2282.5 725.5,2284.9 727.5,2287.2 729.5,2289.6 731.5,2291.9 733.5,2294.2 735.5,2296.6 737.5,2298.9 739.5,2301.2 741.5,2303.5 743.5,2305.8 745.5,2308.1 747.5,2310.3 749.5,2312.6 751.5,2314.9 753.5,2317.1 755.5,2319.3 757.5,2321.6 759.5,2323.8 761.5,2326.0 763.5,2328.2 765.5,2330.4 767.5,2332.5 769.5,2334.7 771.5,2336.8 773.5,2339.0 775.5,2341.1 777.5,2343.2 779.5,2345.3 781.5,2347.4 783.5,2349.4 785.5,2351.5 787.5,2353.5 789.5,2355.5 791.5,2357.5 793.5,2359.5 795.5,2361.5 797.5,2363.4 799.5,2365.4 801.5,2367.3 803.5,2369.2 805.5,2371.1 807.5,2373.0 809.5,2374.9 811.5,2376.7 813.5,2378.6 815.5,2380.4 817.5,2382.2 819.5,2384.0 821.5,2385.8 823.5,2387.6 825.5,2389.3 827.5,2391.1 829.5,2392.8 831.5,2394.5 833.5,2396.3 835.5,2397.9 837.5,2399.6 839.5,2401.3 841.5,2402.9 843.5,2404.6 845.5,2406.2 847.5,2407.8 849.5,2409.4 851.5,2411.0 853.5,2412.6 855.5,2414.1 857.5,2415.7 859.5,2417.2 861.5,2418.7 863.5,2420.3 865.5,2421.8 867.5,2423.2 869.5,2424.7 871.5,2426.2 873.5,2427.6 875.5,2429.1 877.5,2430.5 879.5,2431.9 881.5,2433.3 883.5,2434.7 885.5,2436.0 887.5,2437.4 889.5,2438.8 891.5,2440.1 893.5,2441.4 895.5,2442.7 897.5,2444.0 899.5,2445.3 901.5,2446.6 903.5,2447.9 905.5,2449.1 907.5,2450.4 909.5,2451.6 911.5,2452.8 913.5,2454.0 915.5,2455.2 917.5,2456.4 919.5,2457.6 921.5,2458.7 923.5,2459.9 925.5,2461.0 927.5,2462.2 929.5,2463.3 931.5,2464.4 933.5,2465.5 935.5,2466.6 937.5,2467.7 939.5,2468.7 941.5,2469.8 943.5,2470.8 945.5,2471.9 947.5,2472.9 949.5,2473.9 951.5,2474.9 953.5,2475.9 955.5,2476.8 957.5,2477.8 959.5,2478.7 961.5,2479.6 963.5,2480.6 965.5,2481.5 967.5,2482.4 969.5,2483.3 971.5,2484.2 973.5,2485.1 975.5,2485.9 977.5,2486.8 979.5,2487.7 981.5,2488.5 983.5,2489.4 985.5,2490.2 987.5,2491.1 989.5,2491.9 991.5,2492.7 993.5,2493.5 995.5,2494.3 997.5,2495.1 999.5,2495.9 1001.5,2496.7 1003.5,2497.4 1005.5,2498.2 1007.5,2499.0 1009.5,2499.7 1011.5,2500.5 1013.5,2501.2 1015.5,2502.0 1017.5,2502.7 1019.5,2503.4 1021.5,2504.1 1023.5,2504.8 1025.5,2505.5 1027.5,2506.2 1029.5,2506.9 1031.5,2507.5 1033.5,2508.2 1035.5,2508.8 1037.5,2509.4 1039.5,2510.0 1041.5,2510.6 1043.5,2511.1 1045.5,2511.7 1047.5,2512.2 1049.5,2512.8 1051.5,2513.3 1053.5,2513.8 1055.5,2514.3 1057.5,2514.8 1059.5,2515.3 1061.5,2515.8 1063.5,2516.3 1065.5,2516.7 1067.5,2517.2 1069.5,2517.7 1071.5,2518.2 1073.5,2518.7 1075.5,2519.1 1077.5,2519.6 1079.5,2520.1 1081.5,2520.6 1083.5,2521.0 1085.5,2521.5 1087.5,2522.0 1089.5,2522.4 1091.5,2522.9 1093.5,2523.3 1095.5,2523.8 1097.5,2524.2 1099.5,2524.7 1101.5,2525.1 1103.5,2525.5 1105.5,2525.9 1107.5,2526.3 1109.5,2526.7 1111.5,2527.1 1113.5,2527.5 1115.5,2527.9 1117.5,2528.3 1119.5,2528.7 1121.5,2529.1 1123.5,2529.4 1125.5,2529.8 1127.5,2530.2 1129.5,2530.5 1131.5,2530.9 1133.5,2531.2 1135.5,2531.6 1137.5,2531.9 1139.5,2532.2 1141.5,2532.5 1143.5,2532.9 1145.5,2533.2 1147.5,2533.5 1149.5,2533.8 1151.5,2534.1 1153.5,2534.3 1155.5,2534.6 1157.5,2534.9 1159.5,2535.2 1161.5,2535.4 1163.5,2535.7 1165.5,2536.0 1167.5,2536.2 1169.5,2536.5 1171.5,2536.7 1173.5,2536.9 1175.5,2537.2 1177.5,2537.4 1179.5,2537.7 1181.5,2537.9 1183.5,2538.1 1185.5,2538.3 1187.5,2538.6 1189.5,2538.8 1191.5,2539.0 1193.5,2539.2 1195.5,2539.4 1197.5,2539.6 1199.5,2539.9 1201.5,2540.1 1203.5,2540.3 1205.5,2540.5 1207.5,2540.7 1209.5,2540.9 1211.5,2541.0 1213.5,2541.2 1215.5,2541.4 1217.5,2541.6 1219.5,2541.8 1221.5,2542.0 1223.5,2542.2 1225.5,2542.4 1227.5,2542.6 1229.5,2542.8 1231.5,2543.0 1233.5,2543.2 1235.5,2543.4 1237.5,2543.6 1239.5,2543.8 1241.5,2544.1 1243.5,2544.3 1245.5,2544.5 1247.5,2544.7 1249.5,2545.0 1251.5,2545.2 1253.5,2545.4 1255.5,2545.6 1257.5,2545.8 1259.5,2546.1 1261.5,2546.3 1263.5,2546.5 1265.5,2546.7 1267.5,2546.9 1269.5,2547.1 1271.5,2547.3 1273.5,2547.5 1275.5,2547.7 1277.5,2547.9 1279.5,2548.0 1281.5,2548.2 1283.5,2548.4 1285.5,2548.5 1287.5,2548.6 1289.5,2548.8 1291.5,2548.9 1293.5,2549.0 1295.5,2549.1 1297.5,2549.2 1299.5,2549.4 1301.5,2549.5 1303.5,2549.6 1305.5,2549.7 1307.5,2549.8 1309.5,2549.9 1311.5,2550.0 1313.5,2550.1 1315.5,2550.2 1317.5,2550.3 1319.5,2550.4 1321.5,2550.5 1323.5,2550.6 1325.5,2550.7 1327.5,2550.8 1329.5,2550.9 1331.5,2551.0 1333.5,2551.0 1335.5,2551.1 1337.5,2551.2 1339.5,2551.3 1341.5,2551.4 1343.5,2551.5 1345.5,2551.5 1347.5,2551.6 1349.5,2551.7 1351.5,2551.8 1353.5,2551.9 1355.5,2551.9 1357.5,2552.0 1359.5,2552.1 1361.5,2552.1 1363.5,2552.2 1365.5,2552.3 1367.5,2552.4 1369.5,2552.4 1371.5,2552.5 1373.5,2552.6 1375.5,2552.6 1377.5,2552.7 1379.5,2552.8 1381.5,2552.8 1383.5,2552.9 1385.5,2553.0 1387.5,2553.0 1389.5,2553.1 1391.5,2553.1 1393.5,2553.2 1395.5,2553.3 1397.5,2553.3 1399.5,2553.4 1401.5,2553.4 1403.5,2553.5 1405.5,2553.6 1407.5,2553.6 1409.5,2553.7 1411.5,2553.7 1413.5,2553.8 1415.5,2553.9 1417.5,2553.9 1419.5,2554.0 1421.5,2554.0 1423.5,2554.1 1425.5,2554.1 1427.5,2554.2 1429.5,2554.3 1431.5,2554.3 1433.5,2554.4 1435.5,2554.4 1437.5,2554.5 1439.5,2554.5 1441.5,2554.6 1443.5,2554.6 1445.5,2554.7 1447.5,2554.7 1449.5,2554.8 1451.5,2554.8 1453.5,2554.9 1455.5,2554.9 1457.5,2555.0 1459.5,2555.0 1461.5,2555.1 1463.5,2555.1 1465.5,2555.2 1467.5,2555.2 1469.5,2555.3 1471.5,2555.3 1473.5,2555.3 1475.5,2555.4 1477.5,2555.4 1479.5,2555.5 1481.5,2555.5 1483.5,2555.5 1485.5,2555.6 1487.5,2555.6 1489.5,2555.6 1491.5,2555.7 1493.5,2555.7 1495.5,2555.7 1497.5,2555.8 1499.5,2555.8 1501.5,2555.8 1503.5,2555.8 1505.5,2555.9 1507.5,2555.9 1509.5,2555.9 1511.5,2556.0 1513.5,2556.0 1515.5,2556.0 1517.5,2556.0 1519.5,2556.1 1521.5,2556.1 1523.5,2556.1 1525.5,2556.1 1527.5,2556.2 1529.5,2556.2 1531.5,2556.2 1533.5,2556.2 1535.5,2556.3 1537.5,2556.3 1539.5,2556.3 1541.5,2556.3 1543.5,2556.3 1545.5,2556.4 1547.5,2556.4 1549.5,2556.4 1551.5,2556.4 1553.5,2556.4 1555.5,2556.5 1557.5,2556.5 1559.5,2556.5 1561.5,2556.5 1563.5,2556.5 1565.5,2556.5 1567.5,2556.5 1569.5,2556.6 1571.5,2556.6 1573.5,2556.6 1575.5,2556.6" fill="none" stroke="#00FFFF" stroke-width="4.8" stroke-linejoin="round"/>
<path d="M269.5,2534.2 271.5,2534.2 273.5,2534.1 275.5,2533.9 277.5,2533.5 279.5,2533.0 281.5,2532.3 283.5,2531.6 285.5,2530.7 287.5,2529.6 289.5,2528.5 291.5,2527.2 293.5,2525.8 295.5,2524.3 297.5,2522.7 299.5,2521.0 301.5,2519.1 303.5,2517.2 305.5,2515.2 307.5,2513.0 309.5,2510.8 311.5,2508.4 313.5,2506.0 315.5,2503.4 317.5,2500.8 319.5,2498.1 321.5,2495.3 323.5,2492.4 325.5,2489.4 327.5,2486.4 329.5,2483.3 331.5,2480.1 333.5,2476.8 335.5,2473.4 337.5,2470.0 339.5,2466.5 341.5,2463.0 343.5,2459.4 345.5,2455.7 347.5,2452.0 349.5,2448.2 351.5,2444.4 353.5,2440.5 355.5,2436.6 357.5,2432.6 359.5,2428.6 361.5,2424.6 363.5,2420.5 365.5,2416.3 367.5,2412.2 369.5,2408.0 371.5,2403.7 373.5,2399.5 375.5,2395.2 377.5,2390.9 379.5,2386.6 381.5,2382.2 383.5,2377.9 385.5,2373.5 387.5,2369.1 389.5,2364.7 391.5,2360.3 393.5,2355.9 395.5,2351.6 397.5,2347.2 399.5,2342.8 401.5,2338.4 403.5,2334.0 405.5,2329.7 407.5,2325.3 409.5,2321.0 411.5,2316.7 413.5,2312.5 415.5,2308.2 417.5,2304.0 419.5,2299.8 421.5,2295.7 423.5,2291.5 425.5,2287.5 427.5,2283.4 429.5,2279.5 431.5,2275.5 433.5,2271.6 435.5,2267.8 437.5,2264.0 439.5,2260.3 441.5,2256.6 443.5,2253.1 445.5,2249.5 447.5,2246.1 449.5,2242.7 451.5,2239.4 453.5,2236.1 455.5,2233.0 457.5,2229.9 459.5,2226.8 461.5,2223.9 463.5,2221.0 465.5,2218.2 467.5,2215.5 469.5,2212.9 471.5,2210.3 473.5,2207.8 475.5,2205.4 477.5,2203.0 479.5,2200.7 481.5,2198.5 483.5,2196.4 485.5,2194.3 487.5,2192.3 489.5,2190.4 491.5,2188.6 493.5,2186.8 495.5,2185.1 497.5,2183.4 499.5,2181.9 501.5,2180.4 503.5,2179.0 505.5,2177.6 507.5,2176.4 509.5,2175.2 511.5,2174.0 513.5,2173.0 515.5,2172.0 517.5,2171.1 519.5,2170.2 521.5,2169.5 523.5,2168.8 525.5,2168.1 527.5,2167.6 529.5,2167.1 531.5,2166.6 533.5,2166.3 535.5,2166.0 537.5,2165.8 539.5,2165.7 541.5,2165.6 543.5,2165.6 545.5,2165.6 547.5,2165.8 549.5,2166.0 551.5,2166.2 553.5,2166.6 555.5,2167.0 557.5,2167.4 559.5,2168.0 561.5,2168.6 563.5,2169.2 565.5,2169.9 567.5,2170.7 569.5,2171.5 571.5,2172.4 573.5,2173.3 575.5,2174.3 577.5,2175.3 579.5,2176.4 581.5,2177.6 583.5,2178.7 585.5,2180.0 587.5,2181.3 589.5,2182.6 591.5,2183.9 593.5,2185.4 595.5,2186.8 597.5,2188.3 599.5,2189.8 601.5,2191.4 603.5,2193.0 605.5,2194.6 607.5,2196.3 609.5,2198.0 611.5,2199.8 613.5,2201.5 615.5,2203.3 617.5,2205.2 619.5,2207.0 621.5,2208.9 623.5,2210.8 625.5,2212.7 627.5,2214.7 629.5,2216.7 631.5,2218.7 633.5,2220.7 635.5,2222.7 637.5,2224.7 639.5,2226.8 641.5,2228.9 643.5,2231.0 645.5,2233.1 647.5,2235.2 649.5,2237.3 651.5,2239.4 653.5,2241.6 655.5,2243.7 657.5,2245.9 659.5,2248.0 661.5,2250.2 663.5,2252.3 665.5,2254.5 667.5,2256.6 669.5,2258.8 671.5,2260.9 673.5,2263.1 675.5,2265.3 677.5,2267.4 679.5,2269.6 681.5,2271.7 683.5,2273.9 685.5,2276.1 687.5,2278.2 689.5,2280.4 691.5,2282.5 693.5,2284.7 695.5,2286.8 697.5,2289.0 699.5,2291.1 701.5,2293.3 703.5,2295.4 705.5,2297.5 707.5,2299.7 709.5,2301.8 711.5,2303.9 713.5,2306.0 715.5,2308.2 717.5,2310.3 719.5,2312.4 721.5,2314.5 723.5,2316.6 725.5,2318.7 727.5,2320.7 729.5,2322.8 731.5,2324.9 733.5,2326.9 735.5,2329.0 737.5,2331.0 739.5,2333.1 741.5,2335.1 743.5,2337.1 745.5,2339.1 747.5,2341.1 749.5,2343.1 751.5,2345.1 753.5,2347.1 755.5,2349.1 757.5,2351.0 759.5,2353.0 761.5,2354.9 763.5,2356.8 765.5,2358.7 767.5,2360.6 769.5,2362.5 771.5,2364.4 773.5,2366.2 775.5,2368.1 777.5,2369.9 779.5,2371.8 781.5,2373.6 783.5,2375.4 785.5,2377.2 787.5,2378.9 789.5,2380.7 791.5,2382.4 793.5,2384.2 795.5,2385.9 797.5,2387.6 799.5,2389.3 801.5,2391.0 803.5,2392.7 805.5,2394.3 807.5,2396.0 809.5,2397.6 811.5,2399.2 813.5,2400.8 815.5,2402.4 817.5,2404.0 819.5,2405.6 821.5,2407.1 823.5,2408.7 825.5,2410.2 827.5,2411.7 829.5,2413.2 831.5,2414.7 833.5,2416.2 835.5,2417.7 837.5,2419.1 839.5,2420.6 841.5,2422.0 843.5,2423.5 845.5,2424.9 847.5,2426.3 849.5,2427.7 851.5,2429.0 853.5,2430.4 855.5,2431.8 857.5,2433.1 859.5,2434.4 861.5,2435.8 863.5,2437.1 865.5,2438.4 867.5,2439.7 869.5,2440.9 871.5,2442.2 873.5,2443.5 875.5,2444.7 877.5,2445.9 879.5,2447.2 881.5,2448.4 883.5,2449.6 885.5,2450.8 887.5,2451.9 889.5,2453.1 891.5,2454.3 893.5,2455.4 895.5,2456.6 897.5,2457.7 899.5,2458.8 901.5,2459.9 903.5,2461.0 905.5,2462.1 907.5,2463.2 909.5,2464.2 911.5,2465.3 913.5,2466.3 915.5,2467.4 917.5,2468.4 919.5,2469.4 921.5,2470.4 923.5,2471.4 925.5,2472.4 927.5,2473.4 929.5,2474.3 931.5,2475.3 933.5,2476.2 935.5,2477.2 937.5,2478.1 939.5,2479.0 941.5,2479.9 943.5,2480.8 945.5,2481.7 947.5,2482.6 949.5,2483.5 951.5,2484.3 953.5,2485.1 955.5,2486.0 957.5,2486.8 959.5,2487.6 961.5,2488.5 963.5,2489.3 965.5,2490.1 967.5,2490.9 969.5,2491.7 971.5,2492.5 973.5,2493.2 975.5,2494.0 977.5,2494.8 979.5,2495.5 981.5,2496.3 983.5,2497.0 985.5,2497.8 987.5,2498.5 989.5,2499.2 991.5,2499.9 993.5,2500.7 995.5,2501.4 997.5,2502.1 999.5,2502.7 1001.5,2503.4 1003.5,2504.1 1005.5,2504.8 1007.5,2505.4 1009.5,2506.1 1011.5,2506.8 1013.5,2507.4 1015.5,2508.0 1017.5,2508.7 1019.5,2509.3 1021.5,2509.9 1023.5,2510.6 1025.5,2511.2 1027.5,2511.8 1029.5,2512.4 1031.5,2513.0 1033.5,2513.5 1035.5,2514.1 1037.5,2514.6 1039.5,2515.0 1041.5,2515.5 1043.5,2515.9 1045.5,2516.3 1047.5,2516.7 1049.5,2517.1 1051.5,2517.5 1053.5,2517.9 1055.5,2518.2 1057.5,2518.6 1059.5,2519.0 1061.5,2519.3 1063.5,2519.7 1065.5,2520.0 1067.5,2520.4 1069.5,2520.7 1071.5,2521.1 1073.5,2521.5 1075.5,2521.9 1077.5,2522.3 1079.5,2522.7 1081.5,2523.1 1083.5,2523.5 1085.5,2523.9 1087.5,2524.3 1089.5,2524.8 1091.5,2525.2 1093.5,2525.6 1095.5,2526.0 1097.5,2526.4 1099.5,2526.8 1101.5,2527.2 1103.5,2527.6 1105.5,2528.0 1107.5,2528.4 1109.5,2528.7 1111.5,2529.1 1113.5,2529.5 1115.5,2529.9 1117.5,2530.3 1119.5,2530.6 1121.5,2531.0 1123.5,2531.4 1125.5,2531.8 1127.5,2532.2 1129.5,2532.5 1131.5,2532.9 1133.5,2533.3 1135.5,2533.6 1137.5,2533.9 1139.5,2534.3 1141.5,2534.6 1143.5,2534.9 1145.5,2535.2 1147.5,2535.5 1149.5,2535.8 1151.5,2536.0 1153.5,2536.3 1155.5,2536.5 1157.5,2536.8 1159.5,2537.0 1161.5,2537.3 1163.5,2537.5 1165.5,2537.7 1167.5,2537.9 1169.5,2538.2 1171.5,2538.4 1173.5,2538.6 1175.5,2538.8 1177.5,2539.0 1179.5,2539.2 1181.5,2539.4 1183.5,2539.6 1185.5,2539.8 1187.5,2540.0 1189.5,2540.2 1191.5,2540.3 1193.5,2540.5 1195.5,2540.7 1197.5,2540.9 1199.5,2541.1 1201.5,2541.3 1203.5,2541.4 1205.5,2541.6 1207.5,2541.8 1209.5,2542.0 1211.5,2542.1 1213.5,2542.3 1215.5,2542.5 1217.5,2542.7 1219.5,2542.9 1221.5,2543.1 1223.5,2543.2 1225.5,2543.4 1227.5,2543.6 1229.5,2543.8 1231.5,2544.0 1233.5,2544.2 1235.5,2544.4 1237.5,2544.6 1239.5,2544.8 1241.5,2545.0 1243.5,2545.2 1245.5,2545.4 1247.5,2545.6 1249.5,2545.8 1251.5,2546.0 1253.5,2546.2 1255.5,2546.4 1257.5,2546.6 1259.5,2546.8 1261.5,2547.0 1263.5,2547.2 1265.5,2547.4 1267.5,2547.6 1269.5,2547.7 1271.5,2547.9 1273.5,2548.1 1275.5,2548.3 1277.5,2548.4 1279.5,2548.6 1281.5,2548.7 1283.5,2548.9 1285.5,2549.0 1287.5,2549.1 1289.5,2549.3 1291.5,2549.4 1293.5,2549.5 1295.5,2549.6 1297.5,2549.7 1299.5,2549.8 1301.5,2549.9 1303.5,2550.1 1305.5,2550.2 1307.5,2550.3 1309.5,2550.4 1311.5,2550.5 1313.5,2550.6 1315.5,2550.7 1317.5,2550.8 1319.5,2550.9 1321.5,2551.0 1323.5,2551.0 1325.5,2551.1 1327.5,2551.2 1329.5,2551.3 1331.5,2551.4 1333.5,2551.5 1335.5,2551.6 1337.5,2551.7 1339.5,2551.7 1341.5,2551.8 1343.5,2551.9 1345.5,2552.0 1347.5,2552.1 1349.5,2552.1 1351.5,2552.2 1353.5,2552.3 1355.5,2552.4 1357.5,2552.4 1359.5,2552.5 1361.5,2552.6 1363.5,2552.7 1365.5,2552.7 1367.5,2552.8 1369.5,2552.9 1371.5,2552.9 1373.5,2553.0 1375.5,2553.1 1377.5,2553.1 1379.5,2553.2 1381.5,2553.2 1383.5,2553.3 1385.5,2553.4 1387.5,2553.4 1389.5,2553.5 1391.5,2553.6 1393.5,2553.6 1395.5,2553.7 1397.5,2553.7 1399.5,2553.8 1401.5,2553.8 1403.5,2553.9 1405.5,2554.0 1407.5,2554.0 1409.5,2554.1 1411.5,2554.1 1413.5,2554.2 1415.5,2554.2 1417.5,2554.3 1419.5,2554.3 1421.5,2554.4 1423.5,2554.4 1425.5,2554.5 1427.5,2554.5 1429.5,2554.6 1431.5,2554.7 1433.5,2554.7 1435.5,2554.8 1437.5,2554.8 1439.5,2554.9 1441.5,2554.9 1443.5,2554.9 1445.5,2555.0 1447.5,2555.0 1449.5,2555.1 1451.5,2555.1 1453.5,2555.2 1455.5,2555.2 1457.5,2555.3 1459.5,2555.3 1461.5,2555.3 1463.5,2555.4 1465.5,2555.4 1467.5,2555.5 1469.5,2555.5 1471.5,2555.5 1473.5,2555.6 1475.5,2555.6 1477.5,2555.7 1479.5,2555.7 1481.5,2555.7 1483.5,2555.8 1485.5,2555.8 1487.5,2555.8 1489.5,2555.9 1491.5,2555.9 1493.5,2555.9 1495.5,2555.9 1497.5,2556.0 1499.5,2556.0 1501.5,2556.0 1503.5,2556.0 1505.5,2556.1 1507.5,2556.1 1509.5,2556.1 1511.5,2556.1 1513.5,2556.2 1515.5,2556.2 1517.5,2556.2 1519.5,2556.2 1521.5,2556.3 1523.5,2556.3 1525.5,2556.3 1527.5,2556.3 1529.5,2556.3 1531.5,2556.4 1533.5,2556.4 1535.5,2556.4 1537.5,2556.4 1539.5,2556.4 1541.5,2556.5 1543.5,2556.5 1545.5,2556.5 1547.5,2556.5 1549.5,2556.5 1551.5,2556.6 1553.5,2556.6 1555.5,2556.6 1557.5,2556.6 1559.5,2556.6 1561.5,2556.6 1563.5,2556.6 1565.5,2556.6 1567.5,2556.7 1569.5,2556.7 1571.5,2556.7 1573.5,2556.7 1575.5,2556.7" fill="none" stroke="#33AA6A" stroke-width="4.8" stroke-linejoin="round"/>
<path d="M269.5,2537.6 271.5,2537.4 273.5,2537.1 275.5,2536.7 277.5,2536.2 279.5,2535.5 281.5,2534.8 283.5,2533.9 285.5,2532.9 287.5,2531.9 289.5,2530.7 291.5,2529.4 293.5,2528.1 295.5,2526.6 297.5,2525.1 299.5,2523.4 301.5,2521.7 303.5,2519.8 305.5,2517.9 307.5,2515.9 309.5,2513.9 311.5,2511.7 313.5,2509.5 315.5,2507.2 317.5,2504.8 319.5,2502.3 321.5,2499.8 323.5,2497.2 325.5,2494.5 327.5,2491.8 329.5,2489.0 331.5,2486.1 333.5,2483.2 335.5,2480.2 337.5,2477.1 339.5,2474.0 341.5,2470.9 343.5,2467.7 345.5,2464.4 347.5,2461.1 349.5,2457.8 351.5,2454.4 353.5,2450.9 355.5,2447.5 357.5,2444.0 359.5,2440.4 361.5,2436.8 363.5,2433.2 365.5,2429.5 367.5,2425.9 369.5,2422.1 371.5,2418.4 373.5,2414.6 375.5,2410.9 377.5,2407.1 379.5,2403.3 381.5,2399.4 383.5,2395.6 385.5,2391.7 387.5,2387.9 389.5,2384.0 391.5,2380.2 393.5,2376.3 395.5,2372.4 397.5,2368.6 399.5,2364.7 401.5,2360.9 403.5,2357.1 405.5,2353.3 407.5,2349.5 409.5,2345.7 411.5,2341.9 413.5,2338.2 415.5,2334.5 417.5,2330.8 419.5,2327.1 421.5,2323.5 423.5,2319.9 425.5,2316.4 427.5,2312.8 429.5,2309.4 431.5,2305.9 433.5,2302.6 435.5,2299.2 437.5,2295.9 439.5,2292.7 441.5,2289.5 443.5,2286.4 445.5,2283.3 447.5,2280.3 449.5,2277.4 451.5,2274.5 453.5,2271.7 455.5,2268.9 457.5,2266.2 459.5,2263.6 461.5,2261.0 463.5,2258.5 465.5,2256.1 467.5,2253.7 469.5,2251.4 471.5,2249.2 473.5,2247.0 475.5,2244.9 477.5,2242.8 479.5,2240.9 481.5,2238.9 483.5,2237.1 485.5,2235.3 487.5,2233.5 489.5,2231.9 491.5,2230.2 493.5,2228.7 495.5,2227.2 497.5,2225.8 499.5,2224.4 501.5,2223.2 503.5,2221.9 505.5,2220.8 507.5,2219.7 509.5,2218.6 511.5,2217.6 513.5,2216.7 515.5,2215.9 517.5,2215.1 519.5,2214.4 521.5,2213.7 523.5,2213.1 525.5,2212.6 527.5,2212.1 529.5,2211.7 531.5,2211.4 533.5,2211.1 535.5,2210.9 537.5,2210.7 539.5,2210.6 541.5,2210.6 543.5,2210.6 545.5,2210.7 547.5,2210.9 549.5,2211.1 551.5,2211.4 553.5,2211.7 555.5,2212.1 557.5,2212.6 559.5,2213.1 561.5,2213.7 563.5,2214.3 565.5,2215.0 567.5,2215.7 569.5,2216.5 571.5,2217.3 573.5,2218.2 575.5,2219.1 577.5,2220.1 579.5,2221.1 581.5,2222.2 583.5,2223.3 585.5,2224.5 587.5,2225.6 589.5,2226.9 591.5,2228.1 593.5,2229.4 595.5,2230.8 597.5,2232.1 599.5,2233.5 601.5,2235.0 603.5,2236.4 605.5,2237.9 607.5,2239.4 609.5,2241.0 611.5,2242.6 613.5,2244.2 615.5,2245.8 617.5,2247.4 619.5,2249.1 621.5,2250.8 623.5,2252.5 625.5,2254.2 627.5,2256.0 629.5,2257.7 631.5,2259.5 633.5,2261.3 635.5,2263.1 637.5,2264.9 639.5,2266.7 641.5,2268.5 643.5,2270.4 645.5,2272.2 647.5,2274.0 649.5,2275.9 651.5,2277.7 653.5,2279.6 655.5,2281.4 657.5,2283.3 659.5,2285.1 661.5,2287.0 663.5,2288.8 665.5,2290.6 667.5,2292.5 669.5,2294.3 671.5,2296.1 673.5,2297.9 675.5,2299.8 677.5,2301.6 679.5,2303.4 681.5,2305.2 683.5,2307.0 685.5,2308.9 687.5,2310.7 689.5,2312.5 691.5,2314.3 693.5,2316.1 695.5,2317.9 697.5,2319.7 699.5,2321.5 701.5,2323.3 703.5,2325.1 705.5,2326.9 707.5,2328.7 709.5,2330.5 711.5,2332.4 713.5,2334.2 715.5,2336.0 717.5,2337.8 719.5,2339.6 721.5,2341.4 723.5,2343.2 725.5,2345.0 727.5,2346.9 729.5,2348.7 731.5,2350.5 733.5,2352.3 735.5,2354.1 737.5,2355.9 739.5,2357.7 741.5,2359.6 743.5,2361.4 745.5,2363.1 747.5,2364.9 749.5,2366.7 751.5,2368.5 753.5,2370.3 755.5,2372.0 757.5,2373.8 759.5,2375.6 761.5,2377.3 763.5,2379.0 765.5,2380.8 767.5,2382.5 769.5,2384.2 771.5,2385.9 773.5,2387.6 775.5,2389.2 777.5,2390.9 779.5,2392.5 781.5,2394.2 783.5,2395.8 785.5,2397.4 787.5,2399.0 789.5,2400.6 791.5,2402.1 793.5,2403.7 795.5,2405.2 797.5,2406.7 799.5,2408.2 801.5,2409.7 803.5,2411.2 805.5,2412.7 807.5,2414.2 809.5,2415.6 811.5,2417.1 813.5,2418.5 815.5,2419.9 817.5,2421.3 819.5,2422.7 821.5,2424.1 823.5,2425.4 825.5,2426.8 827.5,2428.1 829.5,2429.4 831.5,2430.8 833.5,2432.1 835.5,2433.4 837.5,2434.6 839.5,2435.9 841.5,2437.2 843.5,2438.4 845.5,2439.7 847.5,2440.9 849.5,2442.1 851.5,2443.3 853.5,2444.5 855.5,2445.7 857.5,2446.9 859.5,2448.0 861.5,2449.2 863.5,2450.3 865.5,2451.4 867.5,2452.6 869.5,2453.7 871.5,2454.8 873.5,2455.9 875.5,2457.0 877.5,2458.0 879.5,2459.1 881.5,2460.1 883.5,2461.2 885.5,2462.2 887.5,2463.2 889.5,2464.3 891.5,2465.3 893.5,2466.3 895.5,2467.2 897.5,2468.2 899.5,2469.2 901.5,2470.2 903.5,2471.1 905.5,2472.1 907.5,2473.0 909.5,2473.9 911.5,2474.8 913.5,2475.7 915.5,2476.6 917.5,2477.5 919.5,2478.4 921.5,2479.3 923.5,2480.2 925.5,2481.0 927.5,2481.9 929.5,2482.7 931.5,2483.6 933.5,2484.4 935.5,2485.2 937.5,2486.0 939.5,2486.9 941.5,2487.7 943.5,2488.5 945.5,2489.2 947.5,2490.0 949.5,2490.8 951.5,2491.6 953.5,2492.3 955.5,2493.1 957.5,2493.9 959.5,2494.7 961.5,2495.4 963.5,2496.2 965.5,2496.9 967.5,2497.7 969.5,2498.4 971.5,2499.1 973.5,2499.9 975.5,2500.6 977.5,2501.3 979.5,2502.0 981.5,2502.7 983.5,2503.4 985.5,2504.1 987.5,2504.8 989.5,2505.5 991.5,2506.1 993.5,2506.8 995.5,2507.5 997.5,2508.1 999.5,2508.8 1001.5,2509.4 1003.5,2510.0 1005.5,2510.7 1007.5,2511.3 1009.5,2511.9 1011.5,2512.5 1013.5,2513.1 1015.5,2513.7 1017.5,2514.2 1019.5,2514.8 1021.5,2515.4 1023.5,2515.9 1025.5,2516.5 1027.5,2517.0 1029.5,2517.5 1031.5,2518.0 1033.5,2518.5 1035.5,2519.0 1037.5,2519.5 1039.5,2519.9 1041.5,2520.4 1043.5,2520.8 1045.5,2521.2 1047.5,2521.6 1049.5,2522.0 1051.5,2522.4 1053.5,2522.8 1055.5,2523.2 1057.5,2523.6 1059.5,2523.9 1061.5,2524.3 1063.5,2524.7 1065.5,2525.0 1067.5,2525.4 1069.5,2525.7 1071.5,2526.1 1073.5,2526.5 1075.5,2526.8 1077.5,2527.2 1079.5,2527.5 1081.5,2527.9 1083.5,2528.3 1085.5,2528.6 1087.5,2529.0 1089.5,2529.3 1091.5,2529.7 1093.5,2530.0 1095.5,2530.4 1097.5,2530.7 1099.5,2531.1 1101.5,2531.4 1103.5,2531.8 1105.5,2532.1 1107.5,2532.4 1109.5,2532.8 1111.5,2533.1 1113.5,2533.4 1115.5,2533.7 1117.5,2534.1 1119.5,2534.4 1121.5,2534.7 1123.5,2535.0 1125.5,2535.4 1127.5,2535.7 1129.5,2536.0 1131.5,2536.3 1133.5,2536.6 1135.5,2536.9 1137.5,2537.2 1139.5,2537.5 1141.5,2537.8 1143.5,2538.0 1145.5,2538.3 1147.5,2538.5 1149.5,2538.8 1151.5,2539.0 1153.5,2539.2 1155.5,2539.4 1157.5,2539.7 1159.5,2539.9 1161.5,2540.1 1163.5,2540.3 1165.5,2540.5 1167.5,2540.7 1169.5,2540.9 1171.5,2541.0 1173.5,2541.2 1175.5,2541.4 1177.5,2541.6 1179.5,2541.8 1181.5,2541.9 1183.5,2542.1 1185.5,2542.3 1187.5,2542.4 1189.5,2542.6 1191.5,2542.8 1193.5,2542.9 1195.5,2543.1 1197.5,2543.3 1199.5,2543.4 1201.5,2543.6 1203.5,2543.7 1205.5,2543.9 1207.5,2544.1 1209.5,2544.2 1211.5,2544.4 1213.5,2544.5 1215.5,2544.7 1217.5,2544.8 1219.5,2545.0 1221.5,2545.2 1223.5,2545.3 1225.5,2545.5 1227.5,2545.6 1229.5,2545.8 1231.5,2546.0 1233.5,2546.1 1235.5,2546.3 1237.5,2546.5 1239.5,2546.7 1241.5,2546.8 1243.5,2547.0 1245.5,2547.2 1247.5,2547.4 1249.5,2547.5 1251.5,2547.7 1253.5,2547.9 1255.5,2548.1 1257.5,2548.2 1259.5,2548.4 1261.5,2548.6 1263.5,2548.7 1265.5,2548.9 1267.5,2549.0 1269.5,2549.2 1271.5,2549.4 1273.5,2549.5 1275.5,2549.6 1277.5,2549.8 1279.5,2549.9 1281.5,2550.0 1283.5,2550.2 1285.5,2550.3 1287.5,2550.4 1289.5,2550.5 1291.5,2550.6 1293.5,2550.7 1295.5,2550.8 1297.5,2550.8 1299.5,2550.9 1301.5,2551.0 1303.5,2551.1 1305.5,2551.2 1307.5,2551.3 1309.5,2551.3 1311.5,2551.4 1313.5,2551.5 1315.5,2551.6 1317.5,2551.6 1319.5,2551.7 1321.5,2551.8 1323.5,2551.9 1325.5,2551.9 1327.5,2552.0 1329.5,2552.1 1331.5,2552.1 1333.5,2552.2 1335.5,2552.3 1337.5,2552.3 1339.5,2552.4 1341.5,2552.5 1343.5,2552.5 1345.5,2552.6 1347.5,2552.6 1349.5,2552.7 1351.5,2552.8 1353.5,2552.8 1355.5,2552.9 1357.5,2552.9 1359.5,2553.0 1361.5,2553.0 1363.5,2553.1 1365.5,2553.1 1367.5,2553.2 1369.5,2553.2 1371.5,2553.3 1373.5,2553.3 1375.5,2553.4 1377.5,2553.4 1379.5,2553.5 1381.5,2553.5 1383.5,2553.6 1385.5,2553.6 1387.5,2553.7 1389.5,2553.7 1391.5,2553.8 1393.5,2553.8 1395.5,2553.9 1397.5,2553.9 1399.5,2554.0 1401.5,2554.0 1403.5,2554.1 1405.5,2554.1 1407.5,2554.2 1409.5,2554.2 1411.5,2554.3 1413.5,2554.3 1415.5,2554.4 1417.5,2554.4 1419.5,2554.5 1421.5,2554.5 1423.5,2554.6 1425.5,2554.6 1427.5,2554.7 1429.5,2554.7 1431.5,2554.7 1433.5,2554.8 1435.5,2554.8 1437.5,2554.9 1439.5,2554.9 1441.5,2555.0 1443.5,2555.0 1445.5,2555.1 1447.5,2555.1 1449.5,2555.1 1451.5,2555.2 1453.5,2555.2 1455.5,2555.3 1457.5,2555.3 1459.5,2555.3 1461.5,2555.4 1463.5,2555.4 1465.5,2555.5 1467.5,2555.5 1469.5,2555.5 1471.5,2555.6 1473.5,2555.6 1475.5,2555.6 1477.5,2555.7 1479.5,2555.7 1481.5,2555.7 1483.5,2555.8 1485.5,2555.8 1487.5,2555.8 1489.5,2555.9 1491.5,2555.9 1493.5,2555.9 1495.5,2555.9 1497.5,2556.0 1499.5,2556.0 1501.5,2556.0 1503.5,2556.0 1505.5,2556.1 1507.5,2556.1 1509.5,2556.1 1511.5,2556.1 1513.5,2556.2 1515.5,2556.2 1517.5,2556.2 1519.5,2556.2 1521.5,2556.3 1523.5,2556.3 1525.5,2556.3 1527.5,2556.3 1529.5,2556.3 1531.5,2556.4 1533.5,2556.4 1535.5,2556.4 1537.5,2556.4 1539.5,2556.4 1541.5,2556.5 1543.5,2556.5 1545.5,2556.5 1547.5,2556.5 1549.5,2556.5 1551.5,2556.5 1553.5,2556.6 1555.5,2556.6 1557.5,2556.6 1559.5,2556.6 1561.5,2556.6 1563.5,2556.6 1565.5,2556.6 1567.5,2556.7 1569.5,2556.7 1571.5,2556.7 1573.5,2556.7 1575.5,2556.7" fill="none" stroke="#AA74DC" stroke-width="4.8" stroke-linejoin="round"/>
<path d="M269.5,2545.6 271.5,2545.4 273.5,2545.0 275.5,2544.5 277.5,2544.0 279.5,2543.4 281.5,2542.8 283.5,2542.0 285.5,2541.3 287.5,2540.4 289.5,2539.5 291.5,2538.5 293.5,2537.5 295.5,2536.4 297.5,2535.2 299.5,2534.0 301.5,2532.8 303.5,2531.4 305.5,2530.1 307.5,2528.7 309.5,2527.2 311.5,2525.7 313.5,2524.1 315.5,2522.5 317.5,2520.8 319.5,2519.1 321.5,2517.4 323.5,2515.6 325.5,2513.7 327.5,2511.9 329.5,2509.9 331.5,2508.0 333.5,2506.0 335.5,2504.0 337.5,2501.9 339.5,2499.8 341.5,2497.7 343.5,2495.5 345.5,2493.4 347.5,2491.1 349.5,2488.9 351.5,2486.6 353.5,2484.3 355.5,2482.0 357.5,2479.7 359.5,2477.3 361.5,2474.9 363.5,2472.5 365.5,2470.1 367.5,2467.7 369.5,2465.2 371.5,2462.8 373.5,2460.3 375.5,2457.8 377.5,2455.3 379.5,2452.8 381.5,2450.3 383.5,2447.7 385.5,2445.2 387.5,2442.6 389.5,2440.1 391.5,2437.5 393.5,2435.0 395.5,2432.4 397.5,2429.9 399.5,2427.3 401.5,2424.8 403.5,2422.2 405.5,2419.7 407.5,2417.2 409.5,2414.6 411.5,2412.1 413.5,2409.6 415.5,2407.1 417.5,2404.6 419.5,2402.1 421.5,2399.7 423.5,2397.2 425.5,2394.8 427.5,2392.4 429.5,2390.0 431.5,2387.6 433.5,2385.3 435.5,2382.9 437.5,2380.6 439.5,2378.3 441.5,2376.1 443.5,2373.9 445.5,2371.6 447.5,2369.5 449.5,2367.3 451.5,2365.2 453.5,2363.1 455.5,2361.1 457.5,2359.1 459.5,2357.1 461.5,2355.2 463.5,2353.3 465.5,2351.4 467.5,2349.6 469.5,2347.8 471.5,2346.1 473.5,2344.4 475.5,2342.7 477.5,2341.1 479.5,2339.6 481.5,2338.1 483.5,2336.6 485.5,2335.2 487.5,2333.9 489.5,2332.6 491.5,2331.3 493.5,2330.2 495.5,2329.0 497.5,2327.9 499.5,2326.9 501.5,2326.0 503.5,2325.1 505.5,2324.2 507.5,2323.4 509.5,2322.6 511.5,2321.9 513.5,2321.3 515.5,2320.7 517.5,2320.1 519.5,2319.6 521.5,2319.2 523.5,2318.8 525.5,2318.4 527.5,2318.1 529.5,2317.8 531.5,2317.6 533.5,2317.4 535.5,2317.3 537.5,2317.2 539.5,2317.1 541.5,2317.1 543.5,2317.1 545.5,2317.2 547.5,2317.3 549.5,2317.4 551.5,2317.6 553.5,2317.8 555.5,2318.1 557.5,2318.4 559.5,2318.7 561.5,2319.1 563.5,2319.4 565.5,2319.9 567.5,2320.3 569.5,2320.8 571.5,2321.4 573.5,2321.9 575.5,2322.5 577.5,2323.1 579.5,2323.7 581.5,2324.4 583.5,2325.1 585.5,2325.8 587.5,2326.6 589.5,2327.4 591.5,2328.2 593.5,2329.0 595.5,2329.8 597.5,2330.7 599.5,2331.6 601.5,2332.5 603.5,2333.4 605.5,2334.4 607.5,2335.4 609.5,2336.3 611.5,2337.4 613.5,2338.4 615.5,2339.4 617.5,2340.5 619.5,2341.6 621.5,2342.6 623.5,2343.7 625.5,2344.9 627.5,2346.0 629.5,2347.1 631.5,2348.3 633.5,2349.4 635.5,2350.6 637.5,2351.8 639.5,2353.0 641.5,2354.2 643.5,2355.4 645.5,2356.6 647.5,2357.8 649.5,2359.0 651.5,2360.3 653.5,2361.5 655.5,2362.8 657.5,2364.0 659.5,2365.3 661.5,2366.5 663.5,2367.8 665.5,2369.1 667.5,2370.4 669.5,2371.6 671.5,2372.9 673.5,2374.2 675.5,2375.5 677.5,2376.8 679.5,2378.1 681.5,2379.4 683.5,2380.7 685.5,2382.0 687.5,2383.4 689.5,2384.7 691.5,2386.0 693.5,2387.3 695.5,2388.6 697.5,2389.9 699.5,2391.3 701.5,2392.6 703.5,2393.9 705.5,2395.2 707.5,2396.6 709.5,2397.9 711.5,2399.2 713.5,2400.5 715.5,2401.8 717.5,2403.1 719.5,2404.5 721.5,2405.8 723.5,2407.1 725.5,2408.4 727.5,2409.7 729.5,2411.0 731.5,2412.3 733.5,2413.6 735.5,2414.9 737.5,2416.2 739.5,2417.5 741.5,2418.7 743.5,2420.0 745.5,2421.3 747.5,2422.6 749.5,2423.8 751.5,2425.1 753.5,2426.3 755.5,2427.6 757.5,2428.8 759.5,2430.0 761.5,2431.2 763.5,2432.5 765.5,2433.7 767.5,2434.9 769.5,2436.1 771.5,2437.2 773.5,2438.4 775.5,2439.6 777.5,2440.7 779.5,2441.9 781.5,2443.0 783.5,2444.2 785.5,2445.3 787.5,2446.4 789.5,2447.5 791.5,2448.6 793.5,2449.7 795.5,2450.8 797.5,2451.8 799.5,2452.9 801.5,2453.9 803.5,2455.0 805.5,2456.0 807.5,2457.0 809.5,2458.0 811.5,2459.0 813.5,2460.0 815.5,2461.0 817.5,2462.0 819.5,2463.0 821.5,2463.9 823.5,2464.9 825.5,2465.8 827.5,2466.8 829.5,2467.7 831.5,2468.6 833.5,2469.5 835.5,2470.4 837.5,2471.3 839.5,2472.2 841.5,2473.1 843.5,2474.0 845.5,2474.8 847.5,2475.7 849.5,2476.5 851.5,2477.4 853.5,2478.2 855.5,2479.1 857.5,2479.9 859.5,2480.7 861.5,2481.5 863.5,2482.3 865.5,2483.1 867.5,2483.9 869.5,2484.6 871.5,2485.4 873.5,2486.2 875.5,2486.9 877.5,2487.7 879.5,2488.4 881.5,2489.2 883.5,2489.9 885.5,2490.6 887.5,2491.3 889.5,2492.0 891.5,2492.7 893.5,2493.4 895.5,2494.1 897.5,2494.8 899.5,2495.5 901.5,2496.1 903.5,2496.8 905.5,2497.5 907.5,2498.1 909.5,2498.8 911.5,2499.4 913.5,2500.0 915.5,2500.7 917.5,2501.3 919.5,2501.9 921.5,2502.5 923.5,2503.1 925.5,2503.7 927.5,2504.3 929.5,2504.9 931.5,2505.5 933.5,2506.1 935.5,2506.6 937.5,2507.2 939.5,2507.8 941.5,2508.3 943.5,2508.9 945.5,2509.4 947.5,2509.9 949.5,2510.5 951.5,2511.0 953.5,2511.6 955.5,2512.1 957.5,2512.7 959.5,2513.2 961.5,2513.7 963.5,2514.3 965.5,2514.8 967.5,2515.3 969.5,2515.8 971.5,2516.4 973.5,2516.9 975.5,2517.4 977.5,2517.9 979.5,2518.4 981.5,2518.9 983.5,2519.3 985.5,2519.8 987.5,2520.3 989.5,2520.8 991.5,2521.2 993.5,2521.7 995.5,2522.2 997.5,2522.6 999.5,2523.1 1001.5,2523.5 1003.5,2523.9 1005.5,2524.4 1007.5,2524.8 1009.5,2525.2 1011.5,2525.6 1013.5,2526.0 1015.5,2526.4 1017.5,2526.8 1019.5,2527.1 1021.5,2527.5 1023.5,2527.8 1025.5,2528.2 1027.5,2528.5 1029.5,2528.8 1031.5,2529.1 1033.5,2529.4 1035.5,2529.7 1037.5,2529.9 1039.5,2530.2 1041.5,2530.5 1043.5,2530.7 1045.5,2531.0 1047.5,2531.3 1049.5,2531.5 1051.5,2531.7 1053.5,2532.0 1055.5,2532.2 1057.5,2532.4 1059.5,2532.7 1061.5,2532.9 1063.5,2533.1 1065.5,2533.3 1067.5,2533.5 1069.5,2533.8 1071.5,2534.0 1073.5,2534.2 1075.5,2534.5 1077.5,2534.7 1079.5,2535.0 1081.5,2535.2 1083.5,2535.5 1085.5,2535.7 1087.5,2536.0 1089.5,2536.2 1091.5,2536.5 1093.5,2536.7 1095.5,2537.0 1097.5,2537.2 1099.5,2537.5 1101.5,2537.8 1103.5,2538.0 1105.5,2538.3 1107.5,2538.5 1109.5,2538.8 1111.5,2539.0 1113.5,2539.3 1115.5,2539.5 1117.5,2539.8 1119.5,2540.1 1121.5,2540.4 1123.5,2540.6 1125.5,2540.9 1127.5,2541.2 1129.5,2541.5 1131.5,2541.7 1133.5,2542.0 1135.5,2542.2 1137.5,2542.5 1139.5,2542.7 1141.5,2543.0 1143.5,2543.2 1145.5,2543.4 1147.5,2543.6 1149.5,2543.8 1151.5,2544.0 1153.5,2544.1 1155.5,2544.3 1157.5,2544.4 1159.5,2544.6 1161.5,2544.7 1163.5,2544.9 1165.5,2545.0 1167.5,2545.2 1169.5,2545.3 1171.5,2545.5 1173.5,2545.6 1175.5,2545.7 1177.5,2545.8 1179.5,2546.0 1181.5,2546.1 1183.5,2546.2 1185.5,2546.3 1187.5,2546.4 1189.5,2546.6 1191.5,2546.7 1193.5,2546.8 1195.5,2546.9 1197.5,2547.0 1199.5,2547.1 1201.5,2547.2 1203.5,2547.3 1205.5,2547.4 1207.5,2547.6 1209.5,2547.7 1211.5,2547.8 1213.5,2547.9 1215.5,2548.0 1217.5,2548.1 1219.5,2548.2 1221.5,2548.3 1223.5,2548.4 1225.5,2548.6 1227.5,2548.7 1229.5,2548.8 1231.5,2548.9 1233.5,2549.0 1235.5,2549.2 1237.5,2549.3 1239.5,2549.4 1241.5,2549.6 1243.5,2549.7 1245.5,2549.8 1247.5,2550.0 1249.5,2550.1 1251.5,2550.2 1253.5,2550.3 1255.5,2550.5 1257.5,2550.6 1259.5,2550.7 1261.5,2550.9 1263.5,2551.0 1265.5,2551.1 1267.5,2551.2 1269.5,2551.3 1271.5,2551.5 1273.5,2551.6 1275.5,2551.7 1277.5,2551.8 1279.5,2551.9 1281.5,2552.0 1283.5,2552.0 1285.5,2552.1 1287.5,2552.2 1289.5,2552.3 1291.5,2552.4 1293.5,2552.4 1295.5,2552.5 1297.5,2552.5 1299.5,2552.6 1301.5,2552.7 1303.5,2552.7 1305.5,2552.8 1307.5,2552.9 1309.5,2552.9 1311.5,2553.0 1313.5,2553.0 1315.5,2553.1 1317.5,2553.1 1319.5,2553.2 1321.5,2553.2 1323.5,2553.3 1325.5,2553.3 1327.5,2553.4 1329.5,2553.4 1331.5,2553.5 1333.5,2553.5 1335.5,2553.6 1337.5,2553.6 1339.5,2553.7 1341.5,2553.7 1343.5,2553.7 1345.5,2553.8 1347.5,2553.8 1349.5,2553.9 1351.5,2553.9 1353.5,2554.0 1355.5,2554.0 1357.5,2554.0 1359.5,2554.1 1361.5,2554.1 1363.5,2554.2 1365.5,2554.2 1367.5,2554.2 1369.5,2554.3 1371.5,2554.3 1373.5,2554.3 1375.5,2554.4 1377.5,2554.4 1379.5,2554.4 1381.5,2554.5 1383.5,2554.5 1385.5,2554.5 1387.5,2554.6 1389.5,2554.6 1391.5,2554.7 1393.5,2554.7 1395.5,2554.7 1397.5,2554.8 1399.5,2554.8 1401.5,2554.8 1403.5,2554.9 1405.5,2554.9 1407.5,2554.9 1409.5,2555.0 1411.5,2555.0 1413.5,2555.0 1415.5,2555.1 1417.5,2555.1 1419.5,2555.1 1421.5,2555.2 1423.5,2555.2 1425.5,2555.2 1427.5,2555.3 1429.5,2555.3 1431.5,2555.3 1433.5,2555.3 1435.5,2555.4 1437.5,2555.4 1439.5,2555.4 1441.5,2555.5 1443.5,2555.5 1445.5,2555.5 1447.5,2555.6 1449.5,2555.6 1451.5,2555.6 1453.5,2555.6 1455.5,2555.7 1457.5,2555.7 1459.5,2555.7 1461.5,2555.8 1463.5,2555.8 1465.5,2555.8 1467.5,2555.8 1469.5,2555.9 1471.5,2555.9 1473.5,2555.9 1475.5,2555.9 1477.5,2556.0 1479.5,2556.0 1481.5,2556.0 1483.5,2556.0 1485.5,2556.0 1487.5,2556.1 1489.5,2556.1 1491.5,2556.1 1493.5,2556.1 1495.5,2556.2 1497.5,2556.2 1499.5,2556.2 1501.5,2556.2 1503.5,2556.2 1505.5,2556.3 1507.5,2556.3 1509.5,2556.3 1511.5,2556.3 1513.5,2556.3 1515.5,2556.3 1517.5,2556.4 1519.5,2556.4 1521.5,2556.4 1523.5,2556.4 1525.5,2556.4 1527.5,2556.5 1529.5,2556.5 1531.5,2556.5 1533.5,2556.5 1535.5,2556.5 1537.5,2556.5 1539.5,2556.6 1541.5,2556.6 1543.5,2556.6 1545.5,2556.6 1547.5,2556.6 1549.5,2556.6 1551.5,2556.6 1553.5,2556.7 1555.5,2556.7 1557.5,2556.7 1559.5,2556.7 1561.5,2556.7 1563.5,2556.7 1565.5,2556.7 1567.5,2556.7 1569.5,2556.8 1571.5,2556.8 1573.5,2556.8 1575.5,2556.8" fill="none" stroke="#CC9900" stroke-width="4.8" stroke-linejoin="round"/>
<path d="M269.5,2552.1 271.5,2551.9 273.5,2551.7 275.5,2551.4 277.5,2551.1 279.5,2550.7 281.5,2550.3 283.5,2549.9 285.5,2549.5 287.5,2549.0 289.5,2548.4 291.5,2547.9 293.5,2547.3 295.5,2546.7 297.5,2546.0 299.5,2545.3 301.5,2544.6 303.5,2543.9 305.5,2543.1 307.5,2542.3 309.5,2541.5 311.5,2540.6 313.5,2539.8 315.5,2538.8 317.5,2537.9 319.5,2537.0 321.5,2536.0 323.5,2535.0 325.5,2534.0 327.5,2532.9 329.5,2531.9 331.5,2530.8 333.5,2529.7 335.5,2528.6 337.5,2527.5 339.5,2526.3 341.5,2525.1 343.5,2523.9 345.5,2522.7 347.5,2521.5 349.5,2520.3 351.5,2519.0 353.5,2517.8 355.5,2516.5 357.5,2515.2 359.5,2513.9 361.5,2512.6 363.5,2511.3 365.5,2510.0 367.5,2508.7 369.5,2507.3 371.5,2506.0 373.5,2504.6 375.5,2503.3 377.5,2501.9 379.5,2500.5 381.5,2499.2 383.5,2497.8 385.5,2496.4 387.5,2495.0 389.5,2493.6 391.5,2492.2 393.5,2490.9 395.5,2489.5 397.5,2488.1 399.5,2486.7 401.5,2485.3 403.5,2483.9 405.5,2482.6 407.5,2481.2 409.5,2479.8 411.5,2478.4 413.5,2477.1 415.5,2475.7 417.5,2474.4 419.5,2473.1 421.5,2471.7 423.5,2470.4 425.5,2469.1 427.5,2467.8 429.5,2466.5 431.5,2465.2 433.5,2464.0 435.5,2462.7 437.5,2461.5 439.5,2460.3 441.5,2459.0 443.5,2457.8 445.5,2456.7 447.5,2455.5 449.5,2454.4 451.5,2453.2 453.5,2452.1 455.5,2451.0 457.5,2450.0 459.5,2448.9 461.5,2447.9 463.5,2446.9 465.5,2445.9 467.5,2444.9 469.5,2444.0 471.5,2443.1 473.5,2442.2 475.5,2441.3 477.5,2440.5 479.5,2439.7 481.5,2438.9 483.5,2438.1 485.5,2437.4 487.5,2436.7 489.5,2436.0 491.5,2435.4 493.5,2434.7 495.5,2434.1 497.5,2433.6 499.5,2433.0 501.5,2432.5 503.5,2432.0 505.5,2431.5 507.5,2431.1 509.5,2430.6 511.5,2430.2 513.5,2429.8 515.5,2429.5 517.5,2429.2 519.5,2428.8 521.5,2428.6 523.5,2428.3 525.5,2428.0 527.5,2427.8 529.5,2427.6 531.5,2427.4 533.5,2427.3 535.5,2427.1 537.5,2427.0 539.5,2426.9 541.5,2426.8 543.5,2426.8 545.5,2426.8 547.5,2426.7 549.5,2426.7 551.5,2426.8 553.5,2426.8 555.5,2426.8 557.5,2426.9 559.5,2427.0 561.5,2427.1 563.5,2427.2 565.5,2427.4 567.5,2427.5 569.5,2427.7 571.5,2427.9 573.5,2428.1 575.5,2428.3 577.5,2428.6 579.5,2428.8 581.5,2429.1 583.5,2429.4 585.5,2429.7 587.5,2430.0 589.5,2430.3 591.5,2430.7 593.5,2431.0 595.5,2431.4 597.5,2431.8 599.5,2432.2 601.5,2432.6 603.5,2433.0 605.5,2433.4 607.5,2433.9 609.5,2434.3 611.5,2434.8 613.5,2435.3 615.5,2435.8 617.5,2436.3 619.5,2436.8 621.5,2437.3 623.5,2437.8 625.5,2438.4 627.5,2438.9 629.5,2439.5 631.5,2440.0 633.5,2440.6 635.5,2441.2 637.5,2441.8 639.5,2442.4 641.5,2443.0 643.5,2443.6 645.5,2444.2 647.5,2444.9 649.5,2445.5 651.5,2446.1 653.5,2446.8 655.5,2447.4 657.5,2448.1 659.5,2448.8 661.5,2449.5 663.5,2450.1 665.5,2450.8 667.5,2451.5 669.5,2452.2 671.5,2452.9 673.5,2453.6 675.5,2454.3 677.5,2455.0 679.5,2455.8 681.5,2456.5 683.5,2457.2 685.5,2457.9 687.5,2458.7 689.5,2459.4 691.5,2460.2 693.5,2460.9 695.5,2461.6 697.5,2462.4 699.5,2463.1 701.5,2463.9 703.5,2464.7 705.5,2465.4 707.5,2466.2 709.5,2466.9 711.5,2467.7 713.5,2468.4 715.5,2469.2 717.5,2470.0 719.5,2470.7 721.5,2471.5 723.5,2472.2 725.5,2473.0 727.5,2473.7 729.5,2474.5 731.5,2475.3 733.5,2476.0 735.5,2476.8 737.5,2477.5 739.5,2478.3 741.5,2479.0 743.5,2479.8 745.5,2480.5 747.5,2481.2 749.5,2482.0 751.5,2482.7 753.5,2483.4 755.5,2484.2 757.5,2484.9 759.5,2485.6 761.5,2486.3 763.5,2487.0 765.5,2487.7 767.5,2488.4 769.5,2489.1 771.5,2489.8 773.5,2490.5 775.5,2491.2 777.5,2491.9 779.5,2492.5 781.5,2493.2 783.5,2493.8 785.5,2494.5 787.5,2495.1 789.5,2495.8 791.5,2496.4 793.5,2497.0 795.5,2497.6 797.5,2498.3 799.5,2498.9 801.5,2499.5 803.5,2500.1 805.5,2500.6 807.5,2501.2 809.5,2501.8 811.5,2502.4 813.5,2503.0 815.5,2503.5 817.5,2504.1 819.5,2504.6 821.5,2505.2 823.5,2505.7 825.5,2506.2 827.5,2506.8 829.5,2507.3 831.5,2507.8 833.5,2508.3 835.5,2508.8 837.5,2509.3 839.5,2509.8 841.5,2510.3 843.5,2510.8 845.5,2511.3 847.5,2511.8 849.5,2512.3 851.5,2512.7 853.5,2513.2 855.5,2513.6 857.5,2514.1 859.5,2514.5 861.5,2515.0 863.5,2515.4 865.5,2515.9 867.5,2516.3 869.5,2516.7 871.5,2517.2 873.5,2517.6 875.5,2518.0 877.5,2518.4 879.5,2518.8 881.5,2519.2 883.5,2519.6 885.5,2520.0 887.5,2520.4 889.5,2520.8 891.5,2521.2 893.5,2521.5 895.5,2521.9 897.5,2522.3 899.5,2522.6 901.5,2523.0 903.5,2523.4 905.5,2523.7 907.5,2524.1 909.5,2524.4 911.5,2524.8 913.5,2525.1 915.5,2525.5 917.5,2525.8 919.5,2526.1 921.5,2526.4 923.5,2526.8 925.5,2527.1 927.5,2527.4 929.5,2527.7 931.5,2528.0 933.5,2528.3 935.5,2528.7 937.5,2529.0 939.5,2529.3 941.5,2529.6 943.5,2529.8 945.5,2530.1 947.5,2530.4 949.5,2530.7 951.5,2531.0 953.5,2531.3 955.5,2531.6 957.5,2531.9 959.5,2532.2 961.5,2532.4 963.5,2532.7 965.5,2533.0 967.5,2533.3 969.5,2533.6 971.5,2533.8 973.5,2534.1 975.5,2534.4 977.5,2534.7 979.5,2534.9 981.5,2535.2 983.5,2535.4 985.5,2535.7 987.5,2536.0 989.5,2536.2 991.5,2536.5 993.5,2536.7 995.5,2537.0 997.5,2537.2 999.5,2537.4 1001.5,2537.7 1003.5,2537.9 1005.5,2538.1 1007.5,2538.3 1009.5,2538.6 1011.5,2538.8 1013.5,2539.0 1015.5,2539.1 1017.5,2539.3 1019.5,2539.5 1021.5,2539.6 1023.5,2539.7 1025.5,2539.9 1027.5,2540.0 1029.5,2540.1 1031.5,2540.2 1033.5,2540.3 1035.5,2540.4 1037.5,2540.5 1039.5,2540.7 1041.5,2540.8 1043.5,2541.0 1045.5,2541.2 1047.5,2541.4 1049.5,2541.6 1051.5,2541.8 1053.5,2542.0 1055.5,2542.2 1057.5,2542.5 1059.5,2542.7 1061.5,2542.9 1063.5,2543.1 1065.5,2543.4 1067.5,2543.6 1069.5,2543.8 1071.5,2544.0 1073.5,2544.2 1075.5,2544.3 1077.5,2544.5 1079.5,2544.7 1081.5,2544.9 1083.5,2545.1 1085.5,2545.3 1087.5,2545.5 1089.5,2545.7 1091.5,2545.9 1093.5,2546.1 1095.5,2546.3 1097.5,2546.5 1099.5,2546.6 1101.5,2546.8 1103.5,2547.0 1105.5,2547.1 1107.5,2547.2 1109.5,2547.4 1111.5,2547.5 1113.5,2547.6 1115.5,2547.8 1117.5,2547.9 1119.5,2548.0 1121.5,2548.1 1123.5,2548.2 1125.5,2548.3 1127.5,2548.4 1129.5,2548.5 1131.5,2548.6 1133.5,2548.7 1135.5,2548.8 1137.5,2548.9 1139.5,2549.0 1141.5,2549.1 1143.5,2549.2 1145.5,2549.2 1147.5,2549.3 1149.5,2549.4 1151.5,2549.5 1153.5,2549.5 1155.5,2549.6 1157.5,2549.7 1159.5,2549.8 1161.5,2549.8 1163.5,2549.9 1165.5,2549.9 1167.5,2550.0 1169.5,2550.1 1171.5,2550.1 1173.5,2550.2 1175.5,2550.2 1177.5,2550.3 1179.5,2550.4 1181.5,2550.4 1183.5,2550.5 1185.5,2550.5 1187.5,2550.6 1189.5,2550.6 1191.5,2550.7 1193.5,2550.7 1195.5,2550.8 1197.5,2550.8 1199.5,2550.9 1201.5,2551.0 1203.5,2551.0 1205.5,2551.1 1207.5,2551.1 1209.5,2551.2 1211.5,2551.2 1213.5,2551.3 1215.5,2551.3 1217.5,2551.4 1219.5,2551.5 1221.5,2551.5 1223.5,2551.6 1225.5,2551.7 1227.5,2551.7 1229.5,2551.8 1231.5,2551.9 1233.5,2551.9 1235.5,2552.0 1237.5,2552.1 1239.5,2552.2 1241.5,2552.3 1243.5,2552.4 1245.5,2552.5 1247.5,2552.6 1249.5,2552.7 1251.5,2552.8 1253.5,2552.9 1255.5,2553.0 1257.5,2553.1 1259.5,2553.2 1261.5,2553.3 1263.5,2553.4 1265.5,2553.5 1267.5,2553.6 1269.5,2553.7 1271.5,2553.7 1273.5,2553.8 1275.5,2553.9 1277.5,2554.0 1279.5,2554.0 1281.5,2554.1 1283.5,2554.2 1285.5,2554.2 1287.5,2554.3 1289.5,2554.3 1291.5,2554.3 1293.5,2554.4 1295.5,2554.4 1297.5,2554.4 1299.5,2554.4 1301.5,2554.5 1303.5,2554.5 1305.5,2554.5 1307.5,2554.5 1309.5,2554.6 1311.5,2554.6 1313.5,2554.6 1315.5,2554.6 1317.5,2554.7 1319.5,2554.7 1321.5,2554.7 1323.5,2554.7 1325.5,2554.7 1327.5,2554.7 1329.5,2554.8 1331.5,2554.8 1333.5,2554.8 1335.5,2554.8 1337.5,2554.8 1339.5,2554.8 1341.5,2554.9 1343.5,2554.9 1345.5,2554.9 1347.5,2554.9 1349.5,2554.9 1351.5,2554.9 1353.5,2554.9 1355.5,2555.0 1357.5,2555.0 1359.5,2555.0 1361.5,2555.0 1363.5,2555.0 1365.5,2555.0 1367.5,2555.0 1369.5,2555.1 1371.5,2555.1 1373.5,2555.1 1375.5,2555.1 1377.5,2555.1 1379.5,2555.1 1381.5,2555.1 1383.5,2555.2 1385.5,2555.2 1387.5,2555.2 1389.5,2555.2 1391.5,2555.2 1393.5,2555.2 1395.5,2555.3 1397.5,2555.3 1399.5,2555.3 1401.5,2555.3 1403.5,2555.3 1405.5,2555.4 1407.5,2555.4 1409.5,2555.4 1411.5,2555.4 1413.5,2555.4 1415.5,2555.5 1417.5,2555.5 1419.5,2555.5 1421.5,2555.5 1423.5,2555.5 1425.5,2555.6 1427.5,2555.6 1429.5,2555.6 1431.5,2555.6 1433.5,2555.6 1435.5,2555.7 1437.5,2555.7 1439.5,2555.7 1441.5,2555.7 1443.5,2555.8 1445.5,2555.8 1447.5,2555.8 1449.5,2555.8 1451.5,2555.8 1453.5,2555.9 1455.5,2555.9 1457.5,2555.9 1459.5,2555.9 1461.5,2555.9 1463.5,2556.0 1465.5,2556.0 1467.5,2556.0 1469.5,2556.0 1471.5,2556.0 1473.5,2556.1 1475.5,2556.1 1477.5,2556.1 1479.5,2556.1 1481.5,2556.1 1483.5,2556.2 1485.5,2556.2 1487.5,2556.2 1489.5,2556.2 1491.5,2556.2 1493.5,2556.2 1495.5,2556.3 1497.5,2556.3 1499.5,2556.3 1501.5,2556.3 1503.5,2556.3 1505.5,2556.3 1507.5,2556.4 1509.5,2556.4 1511.5,2556.4 1513.5,2556.4 1515.5,2556.4 1517.5,2556.4 1519.5,2556.4 1521.5,2556.5 1523.5,2556.5 1525.5,2556.5 1527.5,2556.5 1529.5,2556.5 1531.5,2556.5 1533.5,2556.5 1535.5,2556.6 1537.5,2556.6 1539.5,2556.6 1541.5,2556.6 1543.5,2556.6 1545.5,2556.6 1547.5,2556.6 1549.5,2556.6 1551.5,2556.7 1553.5,2556.7 1555.5,2556.7 1557.5,2556.7 1559.5,2556.7 1561.5,2556.7 1563.5,2556.7 1565.5,2556.7 1567.5,2556.8 1569.5,2556.8 1571.5,2556.8 1573.5,2556.8 1575.5,2556.8" fill="none" stroke="#00C8C8" stroke-width="4.8" stroke-linejoin="round"/>
<path d="M269.5,2553.6 271.5,2553.6 273.5,2553.6 275.5,2553.6 277.5,2553.5 279.5,2553.5 281.5,2553.4 283.5,2553.3 285.5,2553.2 287.5,2553.0 289.5,2552.9 291.5,2552.7 293.5,2552.5 295.5,2552.3 297.5,2552.1 299.5,2551.9 301.5,2551.6 303.5,2551.4 305.5,2551.1 307.5,2550.8 309.5,2550.5 311.5,2550.2 313.5,2549.9 315.5,2549.5 317.5,2549.2 319.5,2548.8 321.5,2548.5 323.5,2548.1 325.5,2547.7 327.5,2547.3 329.5,2546.8 331.5,2546.4 333.5,2546.0 335.5,2545.5 337.5,2545.1 339.5,2544.6 341.5,2544.1 343.5,2543.6 345.5,2543.2 347.5,2542.7 349.5,2542.2 351.5,2541.6 353.5,2541.1 355.5,2540.6 357.5,2540.1 359.5,2539.5 361.5,2539.0 363.5,2538.4 365.5,2537.9 367.5,2537.3 369.5,2536.7 371.5,2536.2 373.5,2535.6 375.5,2535.0 377.5,2534.5 379.5,2533.9 381.5,2533.3 383.5,2532.7 385.5,2532.1 387.5,2531.5 389.5,2530.9 391.5,2530.3 393.5,2529.7 395.5,2529.1 397.5,2528.5 399.5,2528.0 401.5,2527.4 403.5,2526.8 405.5,2526.2 407.5,2525.6 409.5,2525.0 411.5,2524.4 413.5,2523.8 415.5,2523.2 417.5,2522.6 419.5,2522.1 421.5,2521.5 423.5,2520.9 425.5,2520.3 427.5,2519.8 429.5,2519.2 431.5,2518.7 433.5,2518.1 435.5,2517.6 437.5,2517.0 439.5,2516.5 441.5,2516.0 443.5,2515.5 445.5,2514.9 447.5,2514.4 449.5,2513.9 451.5,2513.4 453.5,2513.0 455.5,2512.5 457.5,2512.0 459.5,2511.6 461.5,2511.1 463.5,2510.7 465.5,2510.2 467.5,2509.8 469.5,2509.4 471.5,2509.0 473.5,2508.6 475.5,2508.3 477.5,2507.9 479.5,2507.5 481.5,2507.2 483.5,2506.9 485.5,2506.6 487.5,2506.3 489.5,2506.0 491.5,2505.7 493.5,2505.4 495.5,2505.2 497.5,2505.0 499.5,2504.7 501.5,2504.5 503.5,2504.3 505.5,2504.2 507.5,2504.0 509.5,2503.8 511.5,2503.7 513.5,2503.6 515.5,2503.4 517.5,2503.3 519.5,2503.2 521.5,2503.1 523.5,2503.1 525.5,2503.0 527.5,2502.9 529.5,2502.9 531.5,2502.9 533.5,2502.8 535.5,2502.8 537.5,2502.8 539.5,2502.8 541.5,2502.8 543.5,2502.9 545.5,2502.9 547.5,2502.9 549.5,2503.0 551.5,2503.1 553.5,2503.1 555.5,2503.2 557.5,2503.3 559.5,2503.4 561.5,2503.5 563.5,2503.6 565.5,2503.7 567.5,2503.9 569.5,2504.0 571.5,2504.1 573.5,2504.3 575.5,2504.4 577.5,2504.6 579.5,2504.8 581.5,2504.9 583.5,2505.1 585.5,2505.3 587.5,2505.5 589.5,2505.7 591.5,2505.9 593.5,2506.1 595.5,2506.3 597.5,2506.5 599.5,2506.7 601.5,2507.0 603.5,2507.2 605.5,2507.4 607.5,2507.7 609.5,2507.9 611.5,2508.2 613.5,2508.4 615.5,2508.7 617.5,2508.9 619.5,2509.2 621.5,2509.4 623.5,2509.7 625.5,2510.0 627.5,2510.2 629.5,2510.5 631.5,2510.8 633.5,2511.1 635.5,2511.3 637.5,2511.6 639.5,2511.9 641.5,2512.2 643.5,2512.5 645.5,2512.8 647.5,2513.0 649.5,2513.3 651.5,2513.6 653.5,2513.9 655.5,2514.2 657.5,2514.5 659.5,2514.8 661.5,2515.1 663.5,2515.3 665.5,2515.6 667.5,2515.9 669.5,2516.2 671.5,2516.5 673.5,2516.7 675.5,2517.0 677.5,2517.3 679.5,2517.6 681.5,2517.9 683.5,2518.1 685.5,2518.4 687.5,2518.7 689.5,2518.9 691.5,2519.2 693.5,2519.5 695.5,2519.7 697.5,2520.0 699.5,2520.3 701.5,2520.5 703.5,2520.8 705.5,2521.1 707.5,2521.3 709.5,2521.6 711.5,2521.8 713.5,2522.1 715.5,2522.3 717.5,2522.6 719.5,2522.8 721.5,2523.1 723.5,2523.3 725.5,2523.6 727.5,2523.8 729.5,2524.1 731.5,2524.3 733.5,2524.6 735.5,2524.8 737.5,2525.1 739.5,2525.3 741.5,2525.5 743.5,2525.8 745.5,2526.0 747.5,2526.2 749.5,2526.5 751.5,2526.7 753.5,2526.9 755.5,2527.2 757.5,2527.4 759.5,2527.6 761.5,2527.9 763.5,2528.1 765.5,2528.3 767.5,2528.5 769.5,2528.8 771.5,2529.0 773.5,2529.2 775.5,2529.4 777.5,2529.6 779.5,2529.9 781.5,2530.1 783.5,2530.3 785.5,2530.5 787.5,2530.7 789.5,2530.9 791.5,2531.1 793.5,2531.3 795.5,2531.5 797.5,2531.8 799.5,2532.0 801.5,2532.2 803.5,2532.4 805.5,2532.6 807.5,2532.8 809.5,2533.0 811.5,2533.2 813.5,2533.4 815.5,2533.6 817.5,2533.8 819.5,2534.0 821.5,2534.1 823.5,2534.3 825.5,2534.5 827.5,2534.7 829.5,2534.9 831.5,2535.1 833.5,2535.3 835.5,2535.5 837.5,2535.7 839.5,2535.8 841.5,2536.0 843.5,2536.2 845.5,2536.4 847.5,2536.6 849.5,2536.8 851.5,2536.9 853.5,2537.1 855.5,2537.3 857.5,2537.5 859.5,2537.6 861.5,2537.8 863.5,2538.0 865.5,2538.2 867.5,2538.3 869.5,2538.5 871.5,2538.7 873.5,2538.8 875.5,2539.0 877.5,2539.2 879.5,2539.3 881.5,2539.5 883.5,2539.6 885.5,2539.8 887.5,2540.0 889.5,2540.1 891.5,2540.3 893.5,2540.4 895.5,2540.6 897.5,2540.8 899.5,2540.9 901.5,2541.1 903.5,2541.2 905.5,2541.4 907.5,2541.5 909.5,2541.7 911.5,2541.8 913.5,2542.0 915.5,2542.1 917.5,2542.3 919.5,2542.4 921.5,2542.6 923.5,2542.7 925.5,2542.8 927.5,2543.0 929.5,2543.1 931.5,2543.3 933.5,2543.4 935.5,2543.5 937.5,2543.7 939.5,2543.8 941.5,2543.9 943.5,2544.1 945.5,2544.2 947.5,2544.3 949.5,2544.5 951.5,2544.6 953.5,2544.8 955.5,2545.0 957.5,2545.1 959.5,2545.3 961.5,2545.5 963.5,2545.6 965.5,2545.8 967.5,2546.0 969.5,2546.1 971.5,2546.3 973.5,2546.4 975.5,2546.6 977.5,2546.8 979.5,2546.9 981.5,2547.0 983.5,2547.2 985.5,2547.3 987.5,2547.5 989.5,2547.6 991.5,2547.7 993.5,2547.8 995.5,2548.0 997.5,2548.1 999.5,2548.2 1001.5,2548.3 1003.5,2548.4 1005.5,2548.5 1007.5,2548.7 1009.5,2548.8 1011.5,2548.9 1013.5,2549.0 1015.5,2549.1 1017.5,2549.1 1019.5,2549.2 1021.5,2549.3 1023.5,2549.4 1025.5,2549.5 1027.5,2549.6 1029.5,2549.7 1031.5,2549.7 1033.5,2549.8 1035.5,2549.9 1037.5,2550.0 1039.5,2550.1 1041.5,2550.1 1043.5,2550.2 1045.5,2550.3 1047.5,2550.3 1049.5,2550.4 1051.5,2550.5 1053.5,2550.5 1055.5,2550.6 1057.5,2550.7 1059.5,2550.7 1061.5,2550.8 1063.5,2550.8 1065.5,2550.9 1067.5,2550.9 1069.5,2551.0 1071.5,2551.0 1073.5,2551.1 1075.5,2551.1 1077.5,2551.2 1079.5,2551.2 1081.5,2551.3 1083.5,2551.3 1085.5,2551.3 1087.5,2551.4 1089.5,2551.4 1091.5,2551.5 1093.5,2551.5 1095.5,2551.5 1097.5,2551.6 1099.5,2551.6 1101.5,2551.7 1103.5,2551.7 1105.5,2551.7 1107.5,2551.8 1109.5,2551.8 1111.5,2551.8 1113.5,2551.9 1115.5,2551.9 1117.5,2551.9 1119.5,2551.9 1121.5,2552.0 1123.5,2552.0 1125.5,2552.0 1127.5,2552.0 1129.5,2552.1 1131.5,2552.1 1133.5,2552.1 1135.5,2552.1 1137.5,2552.2 1139.5,2552.2 1141.5,2552.2 1143.5,2552.2 1145.5,2552.3 1147.5,2552.3 1149.5,2552.3 1151.5,2552.3 1153.5,2552.3 1155.5,2552.4 1157.5,2552.4 1159.5,2552.4 1161.5,2552.4 1163.5,2552.4 1165.5,2552.5 1167.5,2552.5 1169.5,2552.5 1171.5,2552.5 1173.5,2552.6 1175.5,2552.6 1177.5,2552.6 1179.5,2552.6 1181.5,2552.7 1183.5,2552.7 1185.5,2552.7 1187.5,2552.8 1189.5,2552.8 1191.5,2552.8 1193.5,2552.9 1195.5,2552.9 1197.5,2552.9 1199.5,2553.0 1201.5,2553.0 1203.5,2553.1 1205.5,2553.1 1207.5,2553.2 1209.5,2553.2 1211.5,2553.3 1213.5,2553.3 1215.5,2553.4 1217.5,2553.4 1219.5,2553.5 1221.5,2553.5 1223.5,2553.6 1225.5,2553.6 1227.5,2553.7 1229.5,2553.8 1231.5,2553.8 1233.5,2553.9 1235.5,2553.9 1237.5,2554.0 1239.5,2554.1 1241.5,2554.1 1243.5,2554.2 1245.5,2554.2 1247.5,2554.3 1249.5,2554.3 1251.5,2554.4 1253.5,2554.5 1255.5,2554.5 1257.5,2554.6 1259.5,2554.6 1261.5,2554.7 1263.5,2554.7 1265.5,2554.8 1267.5,2554.8 1269.5,2554.8 1271.5,2554.9 1273.5,2554.9 1275.5,2555.0 1277.5,2555.0 1279.5,2555.0 1281.5,2555.1 1283.5,2555.1 1285.5,2555.1 1287.5,2555.2 1289.5,2555.2 1291.5,2555.2 1293.5,2555.2 1295.5,2555.3 1297.5,2555.3 1299.5,2555.3 1301.5,2555.3 1303.5,2555.3 1305.5,2555.4 1307.5,2555.4 1309.5,2555.4 1311.5,2555.4 1313.5,2555.4 1315.5,2555.5 1317.5,2555.5 1319.5,2555.5 1321.5,2555.5 1323.5,2555.5 1325.5,2555.5 1327.5,2555.5 1329.5,2555.6 1331.5,2555.6 1333.5,2555.6 1335.5,2555.6 1337.5,2555.6 1339.5,2555.6 1341.5,2555.6 1343.5,2555.7 1345.5,2555.7 1347.5,2555.7 1349.5,2555.7 1351.5,2555.7 1353.5,2555.7 1355.5,2555.7 1357.5,2555.8 1359.5,2555.8 1361.5,2555.8 1363.5,2555.8 1365.5,2555.8 1367.5,2555.8 1369.5,2555.8 1371.5,2555.8 1373.5,2555.8 1375.5,2555.9 1377.5,2555.9 1379.5,2555.9 1381.5,2555.9 1383.5,2555.9 1385.5,2555.9 1387.5,2555.9 1389.5,2555.9 1391.5,2556.0 1393.5,2556.0 1395.5,2556.0 1397.5,2556.0 1399.5,2556.0 1401.5,2556.0 1403.5,2556.0 1405.5,2556.0 1407.5,2556.0 1409.5,2556.1 1411.5,2556.1 1413.5,2556.1 1415.5,2556.1 1417.5,2556.1 1419.5,2556.1 1421.5,2556.1 1423.5,2556.1 1425.5,2556.1 1427.5,2556.2 1429.5,2556.2 1431.5,2556.2 1433.5,2556.2 1435.5,2556.2 1437.5,2556.2 1439.5,2556.2 1441.5,2556.2 1443.5,2556.2 1445.5,2556.2 1447.5,2556.2 1449.5,2556.3 1451.5,2556.3 1453.5,2556.3 1455.5,2556.3 1457.5,2556.3 1459.5,2556.3 1461.5,2556.3 1463.5,2556.3 1465.5,2556.3 1467.5,2556.3 1469.5,2556.4 1471.5,2556.4 1473.5,2556.4 1475.5,2556.4 1477.5,2556.4 1479.5,2556.4 1481.5,2556.4 1483.5,2556.4 1485.5,2556.4 1487.5,2556.4 1489.5,2556.4 1491.5,2556.5 1493.5,2556.5 1495.5,2556.5 1497.5,2556.5 1499.5,2556.5 1501.5,2556.5 1503.5,2556.5 1505.5,2556.5 1507.5,2556.5 1509.5,2556.5 1511.5,2556.6 1513.5,2556.6 1515.5,2556.6 1517.5,2556.6 1519.5,2556.6 1521.5,2556.6 1523.5,2556.6 1525.5,2556.6 1527.5,2556.6 1529.5,2556.7 1531.5,2556.7 1533.5,2556.7 1535.5,2556.7 1537.5,2556.7 1539.5,2556.7 1541.5,2556.7 1543.5,2556.7 1545.5,2556.7 1547.5,2556.7 1549.5,2556.8 1551.5,2556.8 1553.5,2556.8 1555.5,2556.8 1557.5,2556.8 1559.5,2556.8 1561.5,2556.8 1563.5,2556.8 1565.5,2556.8 1567.5,2556.8 1569.5,2556.9 1571.5,2556.9 1573.5,2556.9 1575.5,2556.9" fill="none" stroke="#7A4A4A" stroke-width="4.8" stroke-linejoin="round"/>
<path d="M269.5,2557.9 271.5,2557.7 273.5,2557.5 275.5,2557.2 277.5,2557.0 279.5,2556.8 281.5,2556.5 283.5,2556.3 285.5,2556.1 287.5,2555.9 289.5,2555.6 291.5,2555.4 293.5,2555.2 295.5,2555.0 297.5,2554.8 299.5,2554.6 301.5,2554.4 303.5,2554.2 305.5,2554.0 307.5,2553.8 309.5,2553.6 311.5,2553.4 313.5,2553.2 315.5,2553.0 317.5,2552.8 319.5,2552.6 321.5,2552.5 323.5,2552.3 325.5,2552.1 327.5,2551.9 329.5,2551.7 331.5,2551.6 333.5,2551.4 335.5,2551.2 337.5,2551.1 339.5,2550.9 341.5,2550.7 343.5,2550.6 345.5,2550.4 347.5,2550.3 349.5,2550.1 351.5,2550.0 353.5,2549.8 355.5,2549.7 357.5,2549.5 359.5,2549.4 361.5,2549.2 363.5,2549.1 365.5,2549.0 367.5,2548.8 369.5,2548.7 371.5,2548.6 373.5,2548.4 375.5,2548.3 377.5,2548.2 379.5,2548.0 381.5,2547.9 383.5,2547.8 385.5,2547.7 387.5,2547.6 389.5,2547.4 391.5,2547.3 393.5,2547.2 395.5,2547.1 397.5,2547.0 399.5,2546.9 401.5,2546.8 403.5,2546.7 405.5,2546.6 407.5,2546.5 409.5,2546.4 411.5,2546.3 413.5,2546.2 415.5,2546.1 417.5,2546.0 419.5,2545.9 421.5,2545.9 423.5,2545.8 425.5,2545.7 427.5,2545.6 429.5,2545.5 431.5,2545.4 433.5,2545.4 435.5,2545.3 437.5,2545.2 439.5,2545.2 441.5,2545.1 443.5,2545.0 445.5,2545.0 447.5,2544.9 449.5,2544.8 451.5,2544.8 453.5,2544.7 455.5,2544.6 457.5,2544.6 459.5,2544.5 461.5,2544.5 463.5,2544.4 465.5,2544.4 467.5,2544.3 469.5,2544.3 471.5,2544.2 473.5,2544.2 475.5,2544.2 477.5,2544.1 479.5,2544.1 481.5,2544.0 483.5,2544.0 485.5,2544.0 487.5,2543.9 489.5,2543.9 491.5,2543.9 493.5,2543.8 495.5,2543.8 497.5,2543.8 499.5,2543.8 501.5,2543.7 503.5,2543.7 505.5,2543.7 507.5,2543.7 509.5,2543.7 511.5,2543.7 513.5,2543.6 515.5,2543.6 517.5,2543.6 519.5,2543.6 521.5,2543.6 523.5,2543.6 525.5,2543.6 527.5,2543.6 529.5,2543.6 531.5,2543.6 533.5,2543.6 535.5,2543.6 537.5,2543.6 539.5,2543.6 541.5,2543.6 543.5,2543.6 545.5,2543.6 547.5,2543.6 549.5,2543.6 551.5,2543.6 553.5,2543.6 555.5,2543.6 557.5,2543.6 559.5,2543.6 561.5,2543.7 563.5,2543.7 565.5,2543.7 567.5,2543.7 569.5,2543.7 571.5,2543.7 573.5,2543.8 575.5,2543.8 577.5,2543.8 579.5,2543.8 581.5,2543.8 583.5,2543.9 585.5,2543.9 587.5,2543.9 589.5,2543.9 591.5,2544.0 593.5,2544.0 595.5,2544.0 597.5,2544.0 599.5,2544.1 601.5,2544.1 603.5,2544.1 605.5,2544.2 607.5,2544.2 609.5,2544.2 611.5,2544.3 613.5,2544.3 615.5,2544.3 617.5,2544.4 619.5,2544.4 621.5,2544.4 623.5,2544.5 625.5,2544.5 627.5,2544.5 629.5,2544.6 631.5,2544.6 633.5,2544.7 635.5,2544.7 637.5,2544.7 639.5,2544.8 641.5,2544.8 643.5,2544.9 645.5,2544.9 647.5,2544.9 649.5,2545.0 651.5,2545.0 653.5,2545.1 655.5,2545.1 657.5,2545.1 659.5,2545.2 661.5,2545.2 663.5,2545.3 665.5,2545.3 667.5,2545.4 669.5,2545.4 671.5,2545.4 673.5,2545.5 675.5,2545.5 677.5,2545.6 679.5,2545.6 681.5,2545.7 683.5,2545.7 685.5,2545.8 687.5,2545.8 689.5,2545.8 691.5,2545.9 693.5,2545.9 695.5,2546.0 697.5,2546.0 699.5,2546.1 701.5,2546.1 703.5,2546.2 705.5,2546.2 707.5,2546.3 709.5,2546.3 711.5,2546.3 713.5,2546.4 715.5,2546.4 717.5,2546.5 719.5,2546.5 721.5,2546.6 723.5,2546.6 725.5,2546.7 727.5,2546.7 729.5,2546.8 731.5,2546.8 733.5,2546.9 735.5,2546.9 737.5,2546.9 739.5,2547.0 741.5,2547.0 743.5,2547.1 745.5,2547.1 747.5,2547.2 749.5,2547.2 751.5,2547.3 753.5,2547.3 755.5,2547.4 757.5,2547.4 759.5,2547.5 761.5,2547.5 763.5,2547.6 765.5,2547.6 767.5,2547.7 769.5,2547.7 771.5,2547.7 773.5,2547.8 775.5,2547.8 777.5,2547.9 779.5,2547.9 781.5,2548.0 783.5,2548.0 785.5,2548.1 787.5,2548.1 789.5,2548.2 791.5,2548.2 793.5,2548.3 795.5,2548.3 797.5,2548.4 799.5,2548.4 801.5,2548.5 803.5,2548.5 805.5,2548.6 807.5,2548.6 809.5,2548.7 811.5,2548.7 813.5,2548.8 815.5,2548.8 817.5,2548.8 819.5,2548.9 821.5,2548.9 823.5,2549.0 825.5,2549.0 827.5,2549.1 829.5,2549.1 831.5,2549.2 833.5,2549.2 835.5,2549.3 837.5,2549.3 839.5,2549.4 841.5,2549.4 843.5,2549.5 845.5,2549.5 847.5,2549.6 849.5,2549.6 851.5,2549.7 853.5,2549.7 855.5,2549.8 857.5,2549.8 859.5,2549.9 861.5,2549.9 863.5,2549.9 865.5,2550.0 867.5,2550.0 869.5,2550.1 871.5,2550.1 873.5,2550.2 875.5,2550.2 877.5,2550.3 879.5,2550.3 881.5,2550.4 883.5,2550.4 885.5,2550.5 887.5,2550.5 889.5,2550.6 891.5,2550.6 893.5,2550.7 895.5,2550.7 897.5,2550.8 899.5,2550.8 901.5,2550.8 903.5,2550.9 905.5,2550.9 907.5,2551.0 909.5,2551.0 911.5,2551.1 913.5,2551.1 915.5,2551.2 917.5,2551.2 919.5,2551.3 921.5,2551.3 923.5,2551.4 925.5,2551.4 927.5,2551.5 929.5,2551.5 931.5,2551.5 933.5,2551.6 935.5,2551.6 937.5,2551.7 939.5,2551.7 941.5,2551.8 943.5,2551.8 945.5,2551.9 947.5,2551.9 949.5,2552.0 951.5,2552.0 953.5,2552.1 955.5,2552.2 957.5,2552.2 959.5,2552.3 961.5,2552.3 963.5,2552.4 965.5,2552.5 967.5,2552.5 969.5,2552.6 971.5,2552.7 973.5,2552.7 975.5,2552.8 977.5,2552.8 979.5,2552.9 981.5,2553.0 983.5,2553.0 985.5,2553.1 987.5,2553.1 989.5,2553.2 991.5,2553.2 993.5,2553.3 995.5,2553.3 997.5,2553.4 999.5,2553.4 1001.5,2553.5 1003.5,2553.5 1005.5,2553.6 1007.5,2553.6 1009.5,2553.7 1011.5,2553.7 1013.5,2553.8 1015.5,2553.8 1017.5,2553.9 1019.5,2553.9 1021.5,2554.0 1023.5,2554.0 1025.5,2554.1 1027.5,2554.1 1029.5,2554.1 1031.5,2554.2 1033.5,2554.2 1035.5,2554.3 1037.5,2554.3 1039.5,2554.4 1041.5,2554.4 1043.5,2554.4 1045.5,2554.5 1047.5,2554.5 1049.5,2554.6 1051.5,2554.6 1053.5,2554.6 1055.5,2554.7 1057.5,2554.7 1059.5,2554.8 1061.5,2554.8 1063.5,2554.9 1065.5,2554.9 1067.5,2554.9 1069.5,2555.0 1071.5,2555.0 1073.5,2555.1 1075.5,2555.1 1077.5,2555.1 1079.5,2555.2 1081.5,2555.2 1083.5,2555.2 1085.5,2555.3 1087.5,2555.3 1089.5,2555.3 1091.5,2555.4 1093.5,2555.4 1095.5,2555.4 1097.5,2555.5 1099.5,2555.5 1101.5,2555.5 1103.5,2555.6 1105.5,2555.6 1107.5,2555.6 1109.5,2555.7 1111.5,2555.7 1113.5,2555.7 1115.5,2555.8 1117.5,2555.8 1119.5,2555.8 1121.5,2555.8 1123.5,2555.9 1125.5,2555.9 1127.5,2555.9 1129.5,2555.9 1131.5,2556.0 1133.5,2556.0 1135.5,2556.0 1137.5,2556.0 1139.5,2556.0 1141.5,2556.0 1143.5,2556.1 1145.5,2556.1 1147.5,2556.1 1149.5,2556.1 1151.5,2556.1 1153.5,2556.1 1155.5,2556.1 1157.5,2556.1 1159.5,2556.1 1161.5,2556.2 1163.5,2556.2 1165.5,2556.2 1167.5,2556.2 1169.5,2556.2 1171.5,2556.2 1173.5,2556.2 1175.5,2556.2 1177.5,2556.2 1179.5,2556.2 1181.5,2556.2 1183.5,2556.2 1185.5,2556.3 1187.5,2556.3 1189.5,2556.3 1191.5,2556.3 1193.5,2556.3 1195.5,2556.3 1197.5,2556.3 1199.5,2556.3 1201.5,2556.3 1203.5,2556.3 1205.5,2556.3 1207.5,2556.3 1209.5,2556.3 1211.5,2556.3 1213.5,2556.3 1215.5,2556.4 1217.5,2556.4 1219.5,2556.4 1221.5,2556.4 1223.5,2556.4 1225.5,2556.4 1227.5,2556.4 1229.5,2556.4 1231.5,2556.4 1233.5,2556.4 1235.5,2556.4 1237.5,2556.4 1239.5,2556.4 1241.5,2556.4 1243.5,2556.4 1245.5,2556.4 1247.5,2556.4 1249.5,2556.4 1251.5,2556.4 1253.5,2556.4 1255.5,2556.4 1257.5,2556.4 1259.5,2556.5 1261.5,2556.5 1263.5,2556.5 1265.5,2556.5 1267.5,2556.5 1269.5,2556.5 1271.5,2556.5 1273.5,2556.5 1275.5,2556.5 1277.5,2556.5 1279.5,2556.5 1281.5,2556.5 1283.5,2556.5 1285.5,2556.5 1287.5,2556.5 1289.5,2556.5 1291.5,2556.5 1293.5,2556.5 1295.5,2556.5 1297.5,2556.5 1299.5,2556.5 1301.5,2556.5 1303.5,2556.5 1305.5,2556.5 1307.5,2556.5 1309.5,2556.5 1311.5,2556.5 1313.5,2556.5 1315.5,2556.5 1317.5,2556.5 1319.5,2556.5 1321.5,2556.5 1323.5,2556.5 1325.5,2556.5 1327.5,2556.5 1329.5,2556.5 1331.5,2556.5 1333.5,2556.5 1335.5,2556.5 1337.5,2556.5 1339.5,2556.5 1341.5,2556.5 1343.5,2556.6 1345.5,2556.6 1347.5,2556.6 1349.5,2556.6 1351.5,2556.6 1353.5,2556.6 1355.5,2556.6 1357.5,2556.6 1359.5,2556.6 1361.5,2556.6 1363.5,2556.6 1365.5,2556.6 1367.5,2556.6 1369.5,2556.6 1371.5,2556.6 1373.5,2556.6 1375.5,2556.6 1377.5,2556.6 1379.5,2556.6 1381.5,2556.6 1383.5,2556.6 1385.5,2556.6 1387.5,2556.6 1389.5,2556.6 1391.5,2556.6 1393.5,2556.6 1395.5,2556.6 1397.5,2556.6 1399.5,2556.6 1401.5,2556.6 1403.5,2556.6 1405.5,2556.6 1407.5,2556.6 1409.5,2556.6 1411.5,2556.6 1413.5,2556.6 1415.5,2556.6 1417.5,2556.6 1419.5,2556.6 1421.5,2556.6 1423.5,2556.6 1425.5,2556.6 1427.5,2556.6 1429.5,2556.6 1431.5,2556.7 1433.5,2556.7 1435.5,2556.7 1437.5,2556.7 1439.5,2556.7 1441.5,2556.7 1443.5,2556.7 1445.5,2556.7 1447.5,2556.7 1449.5,2556.7 1451.5,2556.7 1453.5,2556.7 1455.5,2556.7 1457.5,2556.7 1459.5,2556.7 1461.5,2556.7 1463.5,2556.7 1465.5,2556.7 1467.5,2556.7 1469.5,2556.7 1471.5,2556.7 1473.5,2556.7 1475.5,2556.7 1477.5,2556.7 1479.5,2556.8 1481.5,2556.8 1483.5,2556.8 1485.5,2556.8 1487.5,2556.8 1489.5,2556.8 1491.5,2556.8 1493.5,2556.8 1495.5,2556.8 1497.5,2556.8 1499.5,2556.8 1501.5,2556.8 1503.5,2556.8 1505.5,2556.8 1507.5,2556.8 1509.5,2556.8 1511.5,2556.8 1513.5,2556.8 1515.5,2556.8 1517.5,2556.8 1519.5,2556.8 1521.5,2556.9 1523.5,2556.9 1525.5,2556.9 1527.5,2556.9 1529.5,2556.9 1531.5,2556.9 1533.5,2556.9 1535.5,2556.9 1537.5,2556.9 1539.5,2556.9 1541.5,2556.9 1543.5,2556.9 1545.5,2556.9 1547.5,2556.9 1549.5,2556.9 1551.5,2556.9 1553.5,2556.9 1555.5,2556.9 1557.5,2556.9 1559.5,2557.0 1561.5,2557.0 1563.5,2557.0 1565.5,2557.0 1567.5,2557.0 1569.5,2557.0 1571.5,2557.0 1573.5,2557.0 1575.5,2557.0" fill="none" stroke="#8C8C00" stroke-width="4.8" stroke-linejoin="round"/>
<line x1="1003.5" y1="1697.4" x2="1125.5" y2="1697.4" stroke="#F96400" stroke-width="4.8" stroke-linecap="round"/>
<text x="1139.71" y="1715.40" font-size="55">0</text>
<line x1="1003.5" y1="1764.7" x2="1125.5" y2="1764.7" stroke="#00FF00" stroke-width="4.8" stroke-linecap="round"/>
<text x="1139.71" y="1782.73" font-size="55">0.025 mM</text>
<line x1="1003.5" y1="1832.1" x2="1125.5" y2="1832.1" stroke="#1A6EE0" stroke-width="4.8" stroke-linecap="round"/>
<text x="1139.71" y="1850.06" font-size="55">0.05 mM</text>
<line x1="1003.5" y1="1899.4" x2="1125.5" y2="1899.4" stroke="#00FFFF" stroke-width="4.8" stroke-linecap="round"/>
<text x="1139.71" y="1917.39" font-size="55">0.15 mM</text>
<line x1="1003.5" y1="1966.7" x2="1125.5" y2="1966.7" stroke="#33AA6A" stroke-width="4.8" stroke-linecap="round"/>
<text x="1139.71" y="1984.72" font-size="55">0.25 mM</text>
<line x1="1003.5" y1="2034.1" x2="1125.5" y2="2034.1" stroke="#AA74DC" stroke-width="4.8" stroke-linecap="round"/>
<text x="1139.71" y="2052.05" font-size="55">0.4 mM</text>
<line x1="1003.5" y1="2101.4" x2="1125.5" y2="2101.4" stroke="#CC9900" stroke-width="4.8" stroke-linecap="round"/>
<text x="1139.71" y="2119.38" font-size="55">0.8 mM</text>
<line x1="1003.5" y1="2168.7" x2="1125.5" y2="2168.7" stroke="#00C8C8" stroke-width="4.8" stroke-linecap="round"/>
<text x="1139.71" y="2186.71" font-size="55">1 mM</text>
<line x1="1003.5" y1="2236.0" x2="1125.5" y2="2236.0" stroke="#7A4A4A" stroke-width="4.8" stroke-linecap="round"/>
<text x="1139.71" y="2254.04" font-size="55">2 mM</text>
<line x1="1003.5" y1="2303.4" x2="1125.5" y2="2303.4" stroke="#8C8C00" stroke-width="4.8" stroke-linecap="round"/>
<text x="1139.71" y="2321.37" font-size="55">4 mM</text>
<rect x="909.90" y="1689.90" width="4.00" height="604.10" fill="#000"/>
<polygon points="903,2292 920,2292 913.9,2322 909.9,2322" fill="#000"/>
</svg>
</body></html>
